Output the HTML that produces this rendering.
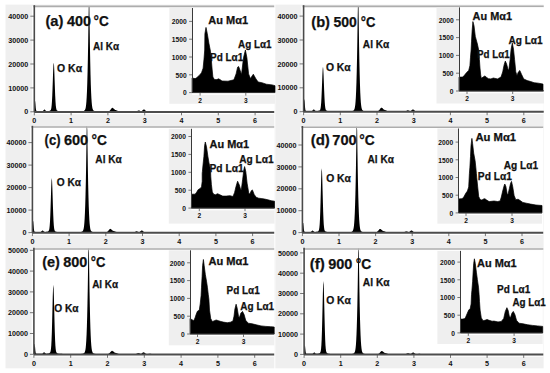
<!DOCTYPE html>
<html><head><meta charset="utf-8"><style>
html,body{margin:0;padding:0;background:#fff;width:550px;height:373px;overflow:hidden}
svg{display:block}
text{font-family:"Liberation Sans", sans-serif;font-weight:bold}
</style></head><body>
<svg width="550" height="373" viewBox="0 0 550 373" font-family='"Liberation Sans", sans-serif' font-weight="bold" fill="#111"><rect x="0" y="0" width="550" height="373" fill="#fff"/>
<rect x="5.5" y="4.6" width="268.8" height="363.7" fill="#efefef"/>
<rect x="275.3" y="4.6" width="268.3" height="363.7" fill="#efefef"/>
<rect x="32.1" y="6" width="242.1" height="108.2" fill="#fff"/>
<line x1="30.3" y1="111.8" x2="34.3" y2="111.8" stroke="#777" stroke-width="1"/>
<text x="28.3" y="114.4" font-size="7.2" text-anchor="end" textLength="4" lengthAdjust="spacingAndGlyphs">0</text>
<line x1="30.3" y1="87.9" x2="34.3" y2="87.9" stroke="#777" stroke-width="1"/>
<text x="28.3" y="90.5" font-size="7.2" text-anchor="end" textLength="20" lengthAdjust="spacingAndGlyphs">10000</text>
<line x1="30.3" y1="64" x2="34.3" y2="64" stroke="#777" stroke-width="1"/>
<text x="28.3" y="66.6" font-size="7.2" text-anchor="end" textLength="20" lengthAdjust="spacingAndGlyphs">20000</text>
<line x1="30.3" y1="40.1" x2="34.3" y2="40.1" stroke="#777" stroke-width="1"/>
<text x="28.3" y="42.7" font-size="7.2" text-anchor="end" textLength="20" lengthAdjust="spacingAndGlyphs">30000</text>
<line x1="30.3" y1="16.2" x2="34.3" y2="16.2" stroke="#777" stroke-width="1"/>
<text x="28.3" y="18.8" font-size="7.2" text-anchor="end" textLength="20" lengthAdjust="spacingAndGlyphs">40000</text>
<line x1="34.3" y1="111.8" x2="34.3" y2="115.3" stroke="#777" stroke-width="1"/>
<text x="34.3" y="123.1" font-size="7.2" text-anchor="middle">0</text>
<line x1="71.1" y1="111.8" x2="71.1" y2="115.3" stroke="#777" stroke-width="1"/>
<text x="71.1" y="123.1" font-size="7.2" text-anchor="middle">1</text>
<line x1="107.9" y1="111.8" x2="107.9" y2="115.3" stroke="#777" stroke-width="1"/>
<text x="107.9" y="123.1" font-size="7.2" text-anchor="middle">2</text>
<line x1="144.7" y1="111.8" x2="144.7" y2="115.3" stroke="#777" stroke-width="1"/>
<text x="144.7" y="123.1" font-size="7.2" text-anchor="middle">3</text>
<line x1="181.5" y1="111.8" x2="181.5" y2="115.3" stroke="#777" stroke-width="1"/>
<text x="181.5" y="123.1" font-size="7.2" text-anchor="middle">4</text>
<line x1="218.3" y1="111.8" x2="218.3" y2="115.3" stroke="#777" stroke-width="1"/>
<text x="218.3" y="123.1" font-size="7.2" text-anchor="middle">5</text>
<line x1="255.1" y1="111.8" x2="255.1" y2="115.3" stroke="#777" stroke-width="1"/>
<text x="255.1" y="123.1" font-size="7.2" text-anchor="middle">6</text>
<path d="M34.3 111.8 L34.3 108 34.59 104.4 34.89 101.22 35.18 101.22 35.48 104.42 35.77 108.02 36.07 110.1 36.36 110.83 36.66 111 36.95 111.03 37.24 111.03 37.54 111.04 37.83 111.04 38.13 111.05 38.42 111.05 38.72 111.06 39.01 111.06 39.3 111.06 39.6 111.07 39.89 111.07 40.19 111.08 40.48 111.08 40.78 111.09 41.07 111.09 41.37 111.09 41.66 111.09 41.95 111.09 42.25 111.08 42.54 111.03 42.84 110.94 43.13 110.75 43.43 110.46 43.72 110.1 44.02 109.74 44.31 109.5 44.6 109.47 44.9 109.67 45.19 110.01 45.49 110.39 45.78 110.7 46.08 110.91 46.37 111.03 46.66 111.09 46.96 111.1 47.25 111.1 47.55 111.09 47.84 111.07 48.14 111.05 48.43 111.02 48.73 110.98 49.02 110.94 49.31 110.88 49.61 110.8 49.9 110.7 50.2 110.55 50.49 110.31 50.79 109.89 51.08 109.13 51.38 107.74 51.67 105.33 51.96 101.45 52.26 95.77 52.55 88.31 52.85 79.7 53.14 71.26 53.44 64.89 53.73 62.49 54.02 64.9 54.32 71.27 54.61 79.71 54.91 88.33 55.2 95.8 55.5 101.49 55.79 105.38 56.09 107.79 56.38 109.19 56.67 109.95 56.97 110.38 57.26 110.62 57.56 110.78 57.85 110.89 58.15 110.97 58.44 111.04 58.74 111.09 59.03 111.13 59.32 111.17 59.62 111.2 59.91 111.22 60.21 111.24 60.5 111.26 60.8 111.27 61.09 111.28 61.38 111.29 61.68 111.3 61.97 111.31 62.27 111.31 62.56 111.32 62.86 111.32 63.15 111.33 63.45 111.33 63.74 111.33 64.03 111.34 64.33 111.34 64.62 111.34 64.92 111.34 65.21 111.35 65.51 111.35 65.8 111.35 66.1 111.36 66.39 111.36 66.68 111.36 66.98 111.36 67.27 111.36 67.57 111.37 67.86 111.37 68.16 111.37 68.45 111.37 68.74 111.38 69.04 111.38 69.33 111.38 69.63 111.38 69.92 111.38 70.22 111.39 70.51 111.39 70.81 111.39 71.1 111.39 71.39 111.39 71.69 111.4 71.98 111.4 72.28 111.4 72.57 111.4 72.87 111.41 73.16 111.41 73.46 111.41 73.75 111.41 74.04 111.41 74.34 111.41 74.63 111.42 74.93 111.42 75.22 111.42 75.52 111.42 75.81 111.42 76.1 111.43 76.4 111.43 76.69 111.43 76.99 111.43 77.28 111.43 77.58 111.43 77.87 111.43 78.17 111.43 78.46 111.43 78.75 111.43 79.05 111.43 79.34 111.43 79.64 111.43 79.93 111.42 80.23 111.42 80.52 111.41 80.82 111.4 81.11 111.39 81.4 111.37 81.7 111.35 81.99 111.32 82.29 111.29 82.58 111.24 82.88 111.19 83.17 111.12 83.46 111.03 83.76 110.92 84.05 110.77 84.35 110.58 84.64 110.3 84.94 109.91 85.23 109.31 85.53 108.39 85.82 106.97 86.11 104.8 86.41 101.6 86.7 97.02 87 90.73 87.29 82.42 87.59 71.8 87.88 58.45 88.18 41.72 88.47 21.18 88.76 6 89.06 6 89.35 6 89.65 26.62 89.94 46.27 90.24 62.09 90.53 74.7 90.82 84.72 91.12 92.5 91.41 98.33 91.71 102.54 92 105.46 92.3 107.41 92.59 108.69 92.89 109.52 93.18 110.06 93.47 110.42 93.77 110.68 94.06 110.86 94.36 111 94.65 111.11 94.95 111.19 95.24 111.26 95.54 111.32 95.83 111.36 96.12 111.4 96.42 111.43 96.71 111.45 97.01 111.47 97.3 111.48 97.6 111.5 97.89 111.5 98.18 111.51 98.48 111.52 98.77 111.52 99.07 111.53 99.36 111.53 99.66 111.54 99.95 111.54 100.25 111.54 100.54 111.54 100.83 111.54 101.13 111.55 101.42 111.55 101.72 111.55 102.01 111.55 102.31 111.55 102.6 111.55 102.9 111.55 103.19 111.55 103.48 111.55 103.78 111.56 104.07 111.56 104.37 111.56 104.66 111.56 104.96 111.56 105.25 111.56 105.54 111.56 105.84 111.56 106.13 111.56 106.43 111.56 106.72 111.56 107.02 111.55 107.31 111.55 107.61 111.53 107.9 111.5 108.19 111.46 108.49 111.39 108.78 111.29 109.08 111.15 109.37 110.97 109.67 110.72 109.96 110.42 110.26 110.07 110.55 109.67 110.84 109.26 111.14 108.85 111.43 108.47 111.73 108.16 112.02 107.95 112.32 107.84 112.61 107.85 112.9 107.96 113.2 108.16 113.49 108.42 113.79 108.71 114.08 109.01 114.38 109.28 114.67 109.52 114.97 109.72 115.26 109.88 115.55 110.01 115.85 110.12 116.14 110.22 116.44 110.32 116.73 110.43 117.03 110.54 117.32 110.66 117.62 110.78 117.91 110.9 118.2 111.02 118.5 111.13 118.79 111.23 119.09 111.32 119.38 111.39 119.68 111.45 119.97 111.49 120.26 111.53 120.56 111.55 120.85 111.57 121.15 111.58 121.44 111.59 121.74 111.6 122.03 111.6 122.33 111.6 122.62 111.61 122.91 111.61 123.21 111.61 123.5 111.61 123.8 111.61 124.09 111.61 124.39 111.61 124.68 111.61 124.98 111.61 125.27 111.61 125.56 111.61 125.86 111.61 126.15 111.61 126.45 111.62 126.74 111.62 127.04 111.62 127.33 111.62 127.62 111.62 127.92 111.62 128.21 111.62 128.51 111.62 128.8 111.62 129.1 111.62 129.39 111.62 129.69 111.62 129.98 111.62 130.27 111.62 130.57 111.62 130.86 111.62 131.16 111.62 131.45 111.62 131.75 111.63 132.04 111.63 132.34 111.63 132.63 111.63 132.92 111.63 133.22 111.63 133.51 111.63 133.81 111.63 134.1 111.63 134.4 111.63 134.69 111.62 134.98 111.62 135.28 111.6 135.57 111.58 135.87 111.54 136.16 111.48 136.46 111.4 136.75 111.29 137.05 111.16 137.34 111 137.63 110.84 137.93 110.69 138.22 110.56 138.52 110.47 138.81 110.44 139.11 110.47 139.4 110.55 139.7 110.68 139.99 110.83 140.28 110.97 140.58 111.09 140.87 111.17 141.17 111.2 141.46 111.15 141.76 111.04 142.05 110.86 142.34 110.62 142.64 110.35 142.93 110.06 143.23 109.81 143.52 109.61 143.82 109.51 144.11 109.51 144.41 109.61 144.7 109.81 144.99 110.07 145.29 110.37 145.58 110.65 145.88 110.92 146.17 111.13 146.47 111.3 146.76 111.42 147.06 111.49 147.35 111.52 147.64 111.53 147.94 111.5 148.23 111.45 148.53 111.39 148.82 111.31 149.12 111.23 149.41 111.16 149.7 111.1 150 111.06 150.29 111.06 150.59 111.08 150.88 111.13 151.18 111.2 151.47 111.28 151.77 111.36 152.06 111.43 152.35 111.5 152.65 111.55 152.94 111.59 153.24 111.62 153.53 111.63 153.83 111.64 154.12 111.65 154.42 111.65 154.71 111.66 155 111.66 155.3 111.66 155.59 111.66 155.89 111.66 156.18 111.66 156.48 111.66 156.77 111.66 157.06 111.66 157.36 111.66 157.65 111.66 157.95 111.66 158.24 111.66 158.54 111.66 158.83 111.66 159.13 111.66 159.42 111.66 159.71 111.66 160.01 111.66 160.3 111.66 160.6 111.66 160.89 111.66 161.19 111.66 161.48 111.66 161.78 111.66 162.07 111.66 162.36 111.66 162.66 111.67 162.95 111.67 163.25 111.67 163.54 111.67 163.84 111.67 164.13 111.67 164.42 111.67 164.72 111.67 165.01 111.67 165.31 111.67 165.6 111.67 165.9 111.67 166.19 111.67 166.49 111.67 166.78 111.67 167.07 111.67 167.37 111.67 167.66 111.67 167.96 111.67 168.25 111.67 168.55 111.67 168.84 111.67 169.14 111.67 169.43 111.67 169.72 111.67 170.02 111.67 170.31 111.67 170.61 111.67 170.9 111.67 171.2 111.67 171.49 111.67 171.78 111.67 172.08 111.67 172.37 111.67 172.67 111.67 172.96 111.67 173.26 111.67 173.55 111.67 173.85 111.67 174.14 111.67 174.43 111.67 174.73 111.67 175.02 111.67 175.32 111.67 175.61 111.68 175.91 111.68 176.2 111.68 176.5 111.68 176.79 111.68 177.08 111.68 177.38 111.68 177.67 111.68 177.97 111.68 178.26 111.68 178.56 111.68 178.85 111.68 179.14 111.68 179.44 111.68 179.73 111.68 180.03 111.68 180.32 111.68 180.62 111.68 180.91 111.68 181.21 111.68 181.5 111.68 181.79 111.68 182.09 111.68 182.38 111.68 182.68 111.68 182.97 111.68 183.27 111.68 183.56 111.68 183.86 111.68 184.15 111.68 184.44 111.68 184.74 111.68 185.03 111.68 185.33 111.68 185.62 111.68 185.92 111.68 186.21 111.68 186.5 111.68 186.8 111.68 187.09 111.68 187.39 111.68 187.68 111.68 187.98 111.68 188.27 111.68 188.57 111.68 188.86 111.68 189.15 111.68 189.45 111.68 189.74 111.68 190.04 111.68 190.33 111.68 190.63 111.68 190.92 111.68 191.22 111.68 191.51 111.68 191.8 111.68 192.1 111.68 192.39 111.68 192.69 111.68 192.98 111.68 193.28 111.68 193.57 111.68 193.86 111.69 194.16 111.69 194.45 111.69 194.75 111.69 195.04 111.69 195.34 111.69 195.63 111.69 195.93 111.69 196.22 111.69 196.51 111.69 196.81 111.69 197.1 111.69 197.4 111.69 197.69 111.69 197.99 111.69 198.28 111.69 198.58 111.69 198.87 111.69 199.16 111.69 199.46 111.69 199.75 111.69 200.05 111.69 200.34 111.69 200.64 111.69 200.93 111.69 201.22 111.69 201.52 111.69 201.81 111.69 202.11 111.69 202.4 111.69 202.7 111.69 202.99 111.69 203.29 111.69 203.58 111.69 203.87 111.69 204.17 111.69 204.46 111.69 204.76 111.69 205.05 111.69 205.35 111.69 205.64 111.69 205.94 111.69 206.23 111.69 206.52 111.69 206.82 111.69 207.11 111.69 207.41 111.69 207.7 111.69 208 111.69 208.29 111.69 208.58 111.69 208.88 111.69 209.17 111.69 209.47 111.69 209.76 111.69 210.06 111.69 210.35 111.69 210.65 111.69 210.94 111.69 211.23 111.69 211.53 111.69 211.82 111.69 212.12 111.69 212.41 111.69 212.71 111.69 213 111.69 213.3 111.69 213.59 111.69 213.88 111.69 214.18 111.69 214.47 111.69 214.77 111.69 215.06 111.69 215.36 111.69 215.65 111.69 215.94 111.69 216.24 111.69 216.53 111.69 216.83 111.69 217.12 111.69 217.42 111.69 217.71 111.69 218.01 111.69 218.3 111.69 218.59 111.69 218.89 111.69 219.18 111.69 219.48 111.69 219.77 111.69 220.07 111.69 220.36 111.69 220.66 111.69 220.95 111.69 221.24 111.69 221.54 111.69 221.83 111.69 222.13 111.69 222.42 111.69 222.72 111.69 223.01 111.69 223.3 111.69 223.6 111.69 223.89 111.69 224.19 111.69 224.48 111.69 224.78 111.69 225.07 111.69 225.37 111.69 225.66 111.69 225.95 111.7 226.25 111.7 226.54 111.7 226.84 111.7 227.13 111.7 227.43 111.7 227.72 111.7 228.02 111.7 228.31 111.7 228.6 111.7 228.9 111.7 229.19 111.7 229.49 111.7 229.78 111.7 230.08 111.7 230.37 111.7 230.66 111.7 230.96 111.7 231.25 111.7 231.55 111.7 231.84 111.7 232.14 111.7 232.43 111.7 232.73 111.7 233.02 111.7 233.31 111.7 233.61 111.7 233.9 111.7 234.2 111.7 234.49 111.7 234.79 111.7 235.08 111.7 235.38 111.7 235.67 111.7 235.96 111.7 236.26 111.7 236.55 111.7 236.85 111.7 237.14 111.7 237.44 111.7 237.73 111.7 238.02 111.7 238.32 111.7 238.61 111.7 238.91 111.7 239.2 111.7 239.5 111.7 239.79 111.7 240.09 111.7 240.38 111.7 240.67 111.7 240.97 111.7 241.26 111.7 241.56 111.7 241.85 111.7 242.15 111.7 242.44 111.7 242.74 111.7 243.03 111.7 243.32 111.7 243.62 111.7 243.91 111.7 244.21 111.7 244.5 111.7 244.8 111.7 245.09 111.7 245.38 111.7 245.68 111.7 245.97 111.7 246.27 111.7 246.56 111.7 246.86 111.7 247.15 111.7 247.45 111.7 247.74 111.7 248.03 111.7 248.33 111.7 248.62 111.7 248.92 111.7 249.21 111.7 249.51 111.7 249.8 111.7 250.1 111.7 250.39 111.7 250.68 111.7 250.98 111.7 251.27 111.7 251.57 111.7 251.86 111.7 252.16 111.7 252.45 111.7 252.74 111.7 253.04 111.7 253.33 111.7 253.63 111.7 253.92 111.7 254.22 111.7 254.51 111.7 254.81 111.7 255.1 111.7 255.39 111.7 255.69 111.7 255.98 111.7 256.28 111.7 256.57 111.7 256.87 111.7 257.16 111.7 257.46 111.7 257.75 111.7 258.04 111.7 258.34 111.7 258.63 111.7 258.93 111.7 259.22 111.7 259.52 111.7 259.81 111.7 260.1 111.7 260.4 111.7 260.69 111.7 260.99 111.7 261.28 111.7 261.58 111.7 261.87 111.7 262.17 111.7 262.46 111.7 262.75 111.7 263.05 111.7 263.34 111.7 263.64 111.7 263.93 111.7 264.23 111.7 264.52 111.7 264.82 111.7 265.11 111.7 265.4 111.7 265.7 111.7 265.99 111.7 266.29 111.7 266.58 111.7 266.88 111.7 267.17 111.7 267.46 111.7 267.76 111.7 268.05 111.7 268.35 111.7 268.64 111.7 268.94 111.7 269.23 111.7 269.53 111.7 269.82 111.7 270.11 111.7 270.41 111.7 270.7 111.7 271 111.7 271.29 111.7 271.59 111.7 271.88 111.7 272.18 111.7 272.47 111.7 272.76 111.7 273.06 111.7 273.35 111.7 273.65 111.7 273.94 111.7 L273.94 111.8 Z" fill="#000"/>
<line x1="33.3" y1="6.4" x2="274.2" y2="6.4" stroke="#adadad" stroke-width="1.6"/>
<line x1="34.3" y1="5.2" x2="34.3" y2="111.8" stroke="#4a4a4a" stroke-width="1.6"/>
<line x1="34.3" y1="111.9" x2="274.2" y2="111.9" stroke="#4d4d4d" stroke-width="2"/>
<rect x="169.3" y="8" width="105.7" height="95.8" fill="#efefef"/>
<rect x="192.1" y="8" width="82.9" height="86.8" fill="#fff"/>
<path d="M192.1 92.6 L192.1 78 195 78.6 196 78.3 199.2 75.5 201.5 72.8 203.1 68.2 204 59.1 204.7 50 204.9 33.7 206 27.4 207.3 33.7 208.9 43.3 210.5 51.4 211.3 59.4 212.1 69.1 212.9 77.1 214.5 79.6 216.9 79.6 218.5 78.8 220 79.6 222 81 228 81.2 233.9 79.8 236.1 73.9 237.6 67.2 238.6 66.5 239.8 69.5 241.5 74.6 243.5 57.7 245.4 50 246.9 57.7 248.6 73.9 250.4 78.6 253.3 74.2 256 79 258.2 82 261.9 82.7 266.3 84.2 272.2 84.9 275 85.7 L275 92.6 Z" fill="#000" stroke="#000" stroke-width="0.7" stroke-linejoin="round"/>
<line x1="189.1" y1="92.6" x2="192.1" y2="92.6" stroke="#777" stroke-width="1"/>
<text x="186.7" y="95.3" font-size="6.6" text-anchor="end" textLength="3.72" lengthAdjust="spacingAndGlyphs">0</text>
<line x1="189.1" y1="74.8" x2="192.1" y2="74.8" stroke="#777" stroke-width="1"/>
<text x="186.7" y="77.5" font-size="6.6" text-anchor="end" textLength="11.16" lengthAdjust="spacingAndGlyphs">500</text>
<line x1="189.1" y1="57" x2="192.1" y2="57" stroke="#777" stroke-width="1"/>
<text x="186.7" y="59.7" font-size="6.6" text-anchor="end" textLength="14.88" lengthAdjust="spacingAndGlyphs">1000</text>
<line x1="189.1" y1="39.2" x2="192.1" y2="39.2" stroke="#777" stroke-width="1"/>
<text x="186.7" y="41.9" font-size="6.6" text-anchor="end" textLength="14.88" lengthAdjust="spacingAndGlyphs">1500</text>
<line x1="189.1" y1="21.4" x2="192.1" y2="21.4" stroke="#777" stroke-width="1"/>
<text x="186.7" y="24.1" font-size="6.6" text-anchor="end" textLength="14.88" lengthAdjust="spacingAndGlyphs">2000</text>
<line x1="200.1" y1="92.6" x2="200.1" y2="95.6" stroke="#777" stroke-width="1"/>
<text x="200.1" y="102.8" font-size="6.6" text-anchor="middle">2</text>
<line x1="245.8" y1="92.6" x2="245.8" y2="95.6" stroke="#777" stroke-width="1"/>
<text x="245.8" y="102.8" font-size="6.6" text-anchor="middle">3</text>
<line x1="192.5" y1="8" x2="192.5" y2="92.6" stroke="#3a3a3a" stroke-width="1"/>
<line x1="192.1" y1="92.5" x2="275" y2="92.5" stroke="#333" stroke-width="1"/>
<text x="45.46" y="25.5" font-size="14.8" textLength="18.04" lengthAdjust="spacingAndGlyphs" stroke="#111" stroke-width="0.25">(a)</text>
<text x="67.08" y="25.5" font-size="14.8" textLength="24.04" lengthAdjust="spacingAndGlyphs" stroke="#111" stroke-width="0.25">400</text>
<text x="93.59" y="25.5" font-size="14.8" textLength="15.18" lengthAdjust="spacingAndGlyphs" stroke="#111" stroke-width="0.25">°C</text>
<text x="57.08" y="72.1" font-size="10.6" textLength="25" lengthAdjust="spacingAndGlyphs" stroke="#111" stroke-width="0.25">O Kα</text>
<text x="93.05" y="50.1" font-size="10.6" textLength="25.94" lengthAdjust="spacingAndGlyphs" stroke="#111" stroke-width="0.25">Al Kα</text>
<text x="208.33" y="24.1" font-size="10.5" textLength="39.75" lengthAdjust="spacingAndGlyphs" stroke="#111" stroke-width="0.25">Au Mα1</text>
<text x="238.05" y="47.5" font-size="10.5" textLength="33.42" lengthAdjust="spacingAndGlyphs" stroke="#111" stroke-width="0.25">Ag Lα1</text>
<text x="210.05" y="61.1" font-size="10.5" textLength="33.22" lengthAdjust="spacingAndGlyphs" stroke="#111" stroke-width="0.25">Pd Lα1</text>
<rect x="301.4" y="6" width="242.3" height="108.1" fill="#fff"/>
<line x1="299.6" y1="111.7" x2="303.6" y2="111.7" stroke="#777" stroke-width="1"/>
<text x="297.6" y="114.3" font-size="7.2" text-anchor="end" textLength="4" lengthAdjust="spacingAndGlyphs">0</text>
<line x1="299.6" y1="87.8" x2="303.6" y2="87.8" stroke="#777" stroke-width="1"/>
<text x="297.6" y="90.4" font-size="7.2" text-anchor="end" textLength="20" lengthAdjust="spacingAndGlyphs">10000</text>
<line x1="299.6" y1="63.9" x2="303.6" y2="63.9" stroke="#777" stroke-width="1"/>
<text x="297.6" y="66.5" font-size="7.2" text-anchor="end" textLength="20" lengthAdjust="spacingAndGlyphs">20000</text>
<line x1="299.6" y1="40" x2="303.6" y2="40" stroke="#777" stroke-width="1"/>
<text x="297.6" y="42.6" font-size="7.2" text-anchor="end" textLength="20" lengthAdjust="spacingAndGlyphs">30000</text>
<line x1="299.6" y1="16.1" x2="303.6" y2="16.1" stroke="#777" stroke-width="1"/>
<text x="297.6" y="18.7" font-size="7.2" text-anchor="end" textLength="20" lengthAdjust="spacingAndGlyphs">40000</text>
<line x1="303.6" y1="111.7" x2="303.6" y2="115.2" stroke="#777" stroke-width="1"/>
<text x="303.6" y="123" font-size="7.2" text-anchor="middle">0</text>
<line x1="340.3" y1="111.7" x2="340.3" y2="115.2" stroke="#777" stroke-width="1"/>
<text x="340.3" y="123" font-size="7.2" text-anchor="middle">1</text>
<line x1="377" y1="111.7" x2="377" y2="115.2" stroke="#777" stroke-width="1"/>
<text x="377" y="123" font-size="7.2" text-anchor="middle">2</text>
<line x1="413.7" y1="111.7" x2="413.7" y2="115.2" stroke="#777" stroke-width="1"/>
<text x="413.7" y="123" font-size="7.2" text-anchor="middle">3</text>
<line x1="450.4" y1="111.7" x2="450.4" y2="115.2" stroke="#777" stroke-width="1"/>
<text x="450.4" y="123" font-size="7.2" text-anchor="middle">4</text>
<line x1="487.1" y1="111.7" x2="487.1" y2="115.2" stroke="#777" stroke-width="1"/>
<text x="487.1" y="123" font-size="7.2" text-anchor="middle">5</text>
<line x1="523.8" y1="111.7" x2="523.8" y2="115.2" stroke="#777" stroke-width="1"/>
<text x="523.8" y="123" font-size="7.2" text-anchor="middle">6</text>
<path d="M303.6 111.7 L303.6 107.41 303.89 103.23 304.19 99.52 304.48 99.53 304.77 103.24 305.07 107.43 305.36 109.85 305.66 110.7 305.95 110.89 306.24 110.93 306.54 110.93 306.83 110.94 307.12 110.94 307.42 110.95 307.71 110.95 308 110.96 308.3 110.96 308.59 110.96 308.88 110.97 309.18 110.97 309.47 110.98 309.77 110.98 310.06 110.99 310.35 110.99 310.65 110.99 310.94 110.99 311.23 110.99 311.53 110.98 311.82 110.93 312.11 110.84 312.41 110.65 312.7 110.36 313 110 313.29 109.64 313.58 109.4 313.88 109.37 314.17 109.57 314.46 109.91 314.76 110.29 315.05 110.6 315.34 110.82 315.64 110.94 315.93 110.99 316.22 111.01 316.52 111.01 316.81 111 317.11 110.98 317.4 110.96 317.69 110.94 317.99 110.9 318.28 110.86 318.57 110.81 318.87 110.74 319.16 110.64 319.45 110.5 319.75 110.29 320.04 109.91 320.34 109.21 320.63 107.95 320.92 105.75 321.22 102.22 321.51 97.03 321.8 90.23 322.1 82.38 322.39 74.69 322.68 68.88 322.98 66.69 323.27 68.89 323.56 74.7 323.86 82.4 324.15 90.26 324.45 97.06 324.74 102.25 325.03 105.8 325.33 108 325.62 109.27 325.91 109.97 326.21 110.35 326.5 110.58 326.79 110.72 327.09 110.82 327.38 110.9 327.68 110.96 327.97 111.01 328.26 111.05 328.56 111.08 328.85 111.11 329.14 111.13 329.44 111.15 329.73 111.16 330.02 111.17 330.32 111.18 330.61 111.19 330.9 111.2 331.2 111.21 331.49 111.21 331.79 111.22 332.08 111.22 332.37 111.23 332.67 111.23 332.96 111.23 333.25 111.24 333.55 111.24 333.84 111.24 334.13 111.25 334.43 111.25 334.72 111.25 335.02 111.25 335.31 111.26 335.6 111.26 335.9 111.26 336.19 111.26 336.48 111.26 336.78 111.27 337.07 111.27 337.36 111.27 337.66 111.27 337.95 111.28 338.24 111.28 338.54 111.28 338.83 111.28 339.13 111.28 339.42 111.29 339.71 111.29 340.01 111.29 340.3 111.29 340.59 111.29 340.89 111.3 341.18 111.3 341.47 111.3 341.77 111.3 342.06 111.31 342.36 111.31 342.65 111.31 342.94 111.31 343.24 111.31 343.53 111.31 343.82 111.32 344.12 111.32 344.41 111.32 344.7 111.32 345 111.32 345.29 111.33 345.58 111.33 345.88 111.33 346.17 111.33 346.47 111.33 346.76 111.33 347.05 111.33 347.35 111.33 347.64 111.33 347.93 111.33 348.23 111.33 348.52 111.33 348.81 111.33 349.11 111.32 349.4 111.32 349.7 111.31 349.99 111.3 350.28 111.29 350.58 111.27 350.87 111.25 351.16 111.22 351.46 111.19 351.75 111.14 352.04 111.09 352.34 111.02 352.63 110.93 352.92 110.82 353.22 110.67 353.51 110.48 353.81 110.2 354.1 109.81 354.39 109.21 354.69 108.29 354.98 106.87 355.27 104.7 355.57 101.5 355.86 96.92 356.15 90.63 356.45 82.32 356.74 71.7 357.04 58.35 357.33 41.62 357.62 21.08 357.92 6 358.21 6 358.5 6 358.8 26.52 359.09 46.17 359.38 61.99 359.68 74.6 359.97 84.62 360.26 92.4 360.56 98.23 360.85 102.44 361.15 105.36 361.44 107.31 361.73 108.59 362.03 109.42 362.32 109.96 362.61 110.32 362.91 110.58 363.2 110.76 363.49 110.9 363.79 111.01 364.08 111.09 364.38 111.16 364.67 111.22 364.96 111.26 365.26 111.3 365.55 111.33 365.84 111.35 366.14 111.37 366.43 111.38 366.72 111.4 367.02 111.4 367.31 111.41 367.6 111.42 367.9 111.42 368.19 111.43 368.49 111.43 368.78 111.44 369.07 111.44 369.37 111.44 369.66 111.44 369.95 111.44 370.25 111.45 370.54 111.45 370.83 111.45 371.13 111.45 371.42 111.45 371.72 111.45 372.01 111.45 372.3 111.45 372.6 111.45 372.89 111.46 373.18 111.46 373.48 111.46 373.77 111.46 374.06 111.46 374.36 111.46 374.65 111.46 374.94 111.46 375.24 111.46 375.53 111.46 375.83 111.46 376.12 111.45 376.41 111.45 376.71 111.43 377 111.4 377.29 111.36 377.59 111.29 377.88 111.19 378.17 111.05 378.47 110.87 378.76 110.62 379.06 110.32 379.35 109.97 379.64 109.57 379.94 109.16 380.23 108.75 380.52 108.37 380.82 108.06 381.11 107.85 381.4 107.74 381.7 107.75 381.99 107.86 382.28 108.06 382.58 108.32 382.87 108.61 383.17 108.91 383.46 109.18 383.75 109.42 384.05 109.62 384.34 109.78 384.63 109.91 384.93 110.02 385.22 110.12 385.51 110.22 385.81 110.33 386.1 110.44 386.4 110.56 386.69 110.68 386.98 110.8 387.28 110.92 387.57 111.03 387.86 111.13 388.16 111.22 388.45 111.29 388.74 111.35 389.04 111.39 389.33 111.43 389.62 111.45 389.92 111.47 390.21 111.48 390.51 111.49 390.8 111.5 391.09 111.5 391.39 111.5 391.68 111.51 391.97 111.51 392.27 111.51 392.56 111.51 392.85 111.51 393.15 111.51 393.44 111.51 393.74 111.51 394.03 111.51 394.32 111.51 394.62 111.51 394.91 111.51 395.2 111.51 395.5 111.52 395.79 111.52 396.08 111.52 396.38 111.52 396.67 111.52 396.96 111.52 397.26 111.52 397.55 111.52 397.85 111.52 398.14 111.52 398.43 111.52 398.73 111.52 399.02 111.52 399.31 111.52 399.61 111.52 399.9 111.52 400.19 111.52 400.49 111.52 400.78 111.53 401.08 111.53 401.37 111.53 401.66 111.53 401.96 111.53 402.25 111.53 402.54 111.53 402.84 111.53 403.13 111.53 403.42 111.53 403.72 111.52 404.01 111.52 404.3 111.5 404.6 111.48 404.89 111.44 405.19 111.38 405.48 111.3 405.77 111.19 406.07 111.06 406.36 110.9 406.65 110.74 406.95 110.59 407.24 110.46 407.53 110.37 407.83 110.34 408.12 110.37 408.42 110.45 408.71 110.58 409 110.73 409.3 110.87 409.59 110.99 409.88 111.07 410.18 111.1 410.47 111.05 410.76 110.94 411.06 110.76 411.35 110.52 411.64 110.25 411.94 109.96 412.23 109.71 412.53 109.51 412.82 109.41 413.11 109.41 413.41 109.51 413.7 109.71 413.99 109.97 414.29 110.27 414.58 110.55 414.87 110.82 415.17 111.03 415.46 111.2 415.76 111.32 416.05 111.39 416.34 111.42 416.64 111.43 416.93 111.4 417.22 111.35 417.52 111.29 417.81 111.21 418.1 111.13 418.4 111.06 418.69 111 418.98 110.96 419.28 110.96 419.57 110.98 419.87 111.03 420.16 111.1 420.45 111.18 420.75 111.26 421.04 111.33 421.33 111.4 421.63 111.45 421.92 111.49 422.21 111.52 422.51 111.53 422.8 111.54 423.1 111.55 423.39 111.55 423.68 111.56 423.98 111.56 424.27 111.56 424.56 111.56 424.86 111.56 425.15 111.56 425.44 111.56 425.74 111.56 426.03 111.56 426.32 111.56 426.62 111.56 426.91 111.56 427.21 111.56 427.5 111.56 427.79 111.56 428.09 111.56 428.38 111.56 428.67 111.56 428.97 111.56 429.26 111.56 429.55 111.56 429.85 111.56 430.14 111.56 430.44 111.56 430.73 111.56 431.02 111.56 431.32 111.56 431.61 111.57 431.9 111.57 432.2 111.57 432.49 111.57 432.78 111.57 433.08 111.57 433.37 111.57 433.66 111.57 433.96 111.57 434.25 111.57 434.55 111.57 434.84 111.57 435.13 111.57 435.43 111.57 435.72 111.57 436.01 111.57 436.31 111.57 436.6 111.57 436.89 111.57 437.19 111.57 437.48 111.57 437.78 111.57 438.07 111.57 438.36 111.57 438.66 111.57 438.95 111.57 439.24 111.57 439.54 111.57 439.83 111.57 440.12 111.57 440.42 111.57 440.71 111.57 441 111.57 441.3 111.57 441.59 111.57 441.89 111.57 442.18 111.57 442.47 111.57 442.77 111.57 443.06 111.57 443.35 111.57 443.65 111.57 443.94 111.57 444.23 111.57 444.53 111.58 444.82 111.58 445.12 111.58 445.41 111.58 445.7 111.58 446 111.58 446.29 111.58 446.58 111.58 446.88 111.58 447.17 111.58 447.46 111.58 447.76 111.58 448.05 111.58 448.34 111.58 448.64 111.58 448.93 111.58 449.23 111.58 449.52 111.58 449.81 111.58 450.11 111.58 450.4 111.58 450.69 111.58 450.99 111.58 451.28 111.58 451.57 111.58 451.87 111.58 452.16 111.58 452.46 111.58 452.75 111.58 453.04 111.58 453.34 111.58 453.63 111.58 453.92 111.58 454.22 111.58 454.51 111.58 454.8 111.58 455.1 111.58 455.39 111.58 455.68 111.58 455.98 111.58 456.27 111.58 456.57 111.58 456.86 111.58 457.15 111.58 457.45 111.58 457.74 111.58 458.03 111.58 458.33 111.58 458.62 111.58 458.91 111.58 459.21 111.58 459.5 111.58 459.8 111.58 460.09 111.58 460.38 111.58 460.68 111.58 460.97 111.58 461.26 111.58 461.56 111.58 461.85 111.58 462.14 111.58 462.44 111.58 462.73 111.59 463.02 111.59 463.32 111.59 463.61 111.59 463.91 111.59 464.2 111.59 464.49 111.59 464.79 111.59 465.08 111.59 465.37 111.59 465.67 111.59 465.96 111.59 466.25 111.59 466.55 111.59 466.84 111.59 467.14 111.59 467.43 111.59 467.72 111.59 468.02 111.59 468.31 111.59 468.6 111.59 468.9 111.59 469.19 111.59 469.48 111.59 469.78 111.59 470.07 111.59 470.36 111.59 470.66 111.59 470.95 111.59 471.25 111.59 471.54 111.59 471.83 111.59 472.13 111.59 472.42 111.59 472.71 111.59 473.01 111.59 473.3 111.59 473.59 111.59 473.89 111.59 474.18 111.59 474.48 111.59 474.77 111.59 475.06 111.59 475.36 111.59 475.65 111.59 475.94 111.59 476.24 111.59 476.53 111.59 476.82 111.59 477.12 111.59 477.41 111.59 477.7 111.59 478 111.59 478.29 111.59 478.59 111.59 478.88 111.59 479.17 111.59 479.47 111.59 479.76 111.59 480.05 111.59 480.35 111.59 480.64 111.59 480.93 111.59 481.23 111.59 481.52 111.59 481.82 111.59 482.11 111.59 482.4 111.59 482.7 111.59 482.99 111.59 483.28 111.59 483.58 111.59 483.87 111.59 484.16 111.59 484.46 111.59 484.75 111.59 485.04 111.59 485.34 111.59 485.63 111.59 485.93 111.59 486.22 111.59 486.51 111.59 486.81 111.59 487.1 111.59 487.39 111.59 487.69 111.59 487.98 111.59 488.27 111.59 488.57 111.59 488.86 111.59 489.16 111.59 489.45 111.59 489.74 111.59 490.04 111.59 490.33 111.59 490.62 111.59 490.92 111.59 491.21 111.59 491.5 111.59 491.8 111.59 492.09 111.59 492.38 111.59 492.68 111.59 492.97 111.59 493.27 111.59 493.56 111.59 493.85 111.59 494.15 111.59 494.44 111.59 494.73 111.6 495.03 111.6 495.32 111.6 495.61 111.6 495.91 111.6 496.2 111.6 496.5 111.6 496.79 111.6 497.08 111.6 497.38 111.6 497.67 111.6 497.96 111.6 498.26 111.6 498.55 111.6 498.84 111.6 499.14 111.6 499.43 111.6 499.72 111.6 500.02 111.6 500.31 111.6 500.61 111.6 500.9 111.6 501.19 111.6 501.49 111.6 501.78 111.6 502.07 111.6 502.37 111.6 502.66 111.6 502.95 111.6 503.25 111.6 503.54 111.6 503.84 111.6 504.13 111.6 504.42 111.6 504.72 111.6 505.01 111.6 505.3 111.6 505.6 111.6 505.89 111.6 506.18 111.6 506.48 111.6 506.77 111.6 507.06 111.6 507.36 111.6 507.65 111.6 507.95 111.6 508.24 111.6 508.53 111.6 508.83 111.6 509.12 111.6 509.41 111.6 509.71 111.6 510 111.6 510.29 111.6 510.59 111.6 510.88 111.6 511.18 111.6 511.47 111.6 511.76 111.6 512.06 111.6 512.35 111.6 512.64 111.6 512.94 111.6 513.23 111.6 513.52 111.6 513.82 111.6 514.11 111.6 514.4 111.6 514.7 111.6 514.99 111.6 515.29 111.6 515.58 111.6 515.87 111.6 516.17 111.6 516.46 111.6 516.75 111.6 517.05 111.6 517.34 111.6 517.63 111.6 517.93 111.6 518.22 111.6 518.52 111.6 518.81 111.6 519.1 111.6 519.4 111.6 519.69 111.6 519.98 111.6 520.28 111.6 520.57 111.6 520.86 111.6 521.16 111.6 521.45 111.6 521.74 111.6 522.04 111.6 522.33 111.6 522.63 111.6 522.92 111.6 523.21 111.6 523.51 111.6 523.8 111.6 524.09 111.6 524.39 111.6 524.68 111.6 524.97 111.6 525.27 111.6 525.56 111.6 525.86 111.6 526.15 111.6 526.44 111.6 526.74 111.6 527.03 111.6 527.32 111.6 527.62 111.6 527.91 111.6 528.2 111.6 528.5 111.6 528.79 111.6 529.08 111.6 529.38 111.6 529.67 111.6 529.97 111.6 530.26 111.6 530.55 111.6 530.85 111.6 531.14 111.6 531.43 111.6 531.73 111.6 532.02 111.6 532.31 111.6 532.61 111.6 532.9 111.6 533.2 111.6 533.49 111.6 533.78 111.6 534.08 111.6 534.37 111.6 534.66 111.6 534.96 111.6 535.25 111.6 535.54 111.6 535.84 111.6 536.13 111.6 536.42 111.6 536.72 111.6 537.01 111.6 537.31 111.6 537.6 111.6 537.89 111.6 538.19 111.6 538.48 111.6 538.77 111.6 539.07 111.6 539.36 111.6 539.65 111.6 539.95 111.6 540.24 111.6 540.54 111.6 540.83 111.6 541.12 111.6 541.42 111.6 541.71 111.6 542 111.6 542.3 111.6 542.59 111.6 542.88 111.6 543.18 111.6 543.47 111.6 L543.47 111.7 Z" fill="#000"/>
<line x1="302.6" y1="6.4" x2="543.7" y2="6.4" stroke="#adadad" stroke-width="1.6"/>
<line x1="303.6" y1="5.2" x2="303.6" y2="111.7" stroke="#4a4a4a" stroke-width="1.6"/>
<line x1="303.6" y1="111.8" x2="543.7" y2="111.8" stroke="#4d4d4d" stroke-width="2"/>
<rect x="436.5" y="7.4" width="107.5" height="96.1" fill="#efefef"/>
<rect x="459" y="7.4" width="85" height="85.8" fill="#fff"/>
<path d="M459 91 L459 77.1 462.6 77.1 464.4 75.3 466.8 72.3 468.7 70.5 469.9 65.7 470.5 57.2 471.1 50 471.5 41.8 472.1 31.1 472.9 21.6 474 25.7 475.3 36.4 477.4 44 478.9 51 479.4 59.6 480 68.1 480.7 75 481.3 78.3 483.1 77.1 484.9 75.9 486.7 77.5 488.5 78.7 490.9 78.9 493.3 78 497.5 78.9 501 77.1 502.7 71.9 504.1 64.9 505.3 61.1 506.6 64 508 69.3 508.8 70.1 510.1 59.7 511.1 49.2 512.3 43.1 513.5 49.2 514.6 59.7 515.8 71.9 517 75.4 518.4 71.9 519.8 70.5 521.6 74.5 523.7 78.9 527.2 80.6 530.6 81.5 534.1 82.7 538.5 83.2 543 84.1 L543 91 Z" fill="#000" stroke="#000" stroke-width="0.7" stroke-linejoin="round"/>
<line x1="456" y1="91" x2="459" y2="91" stroke="#777" stroke-width="1"/>
<text x="453.6" y="93.7" font-size="6.6" text-anchor="end" textLength="3.72" lengthAdjust="spacingAndGlyphs">0</text>
<line x1="456" y1="73.2" x2="459" y2="73.2" stroke="#777" stroke-width="1"/>
<text x="453.6" y="75.9" font-size="6.6" text-anchor="end" textLength="11.16" lengthAdjust="spacingAndGlyphs">500</text>
<line x1="456" y1="55.4" x2="459" y2="55.4" stroke="#777" stroke-width="1"/>
<text x="453.6" y="58.1" font-size="6.6" text-anchor="end" textLength="14.88" lengthAdjust="spacingAndGlyphs">1000</text>
<line x1="456" y1="37.6" x2="459" y2="37.6" stroke="#777" stroke-width="1"/>
<text x="453.6" y="40.3" font-size="6.6" text-anchor="end" textLength="14.88" lengthAdjust="spacingAndGlyphs">1500</text>
<line x1="456" y1="19.8" x2="459" y2="19.8" stroke="#777" stroke-width="1"/>
<text x="453.6" y="22.5" font-size="6.6" text-anchor="end" textLength="14.88" lengthAdjust="spacingAndGlyphs">2000</text>
<line x1="467" y1="91" x2="467" y2="94" stroke="#777" stroke-width="1"/>
<text x="467" y="101.2" font-size="6.6" text-anchor="middle">2</text>
<line x1="512.7" y1="91" x2="512.7" y2="94" stroke="#777" stroke-width="1"/>
<text x="512.7" y="101.2" font-size="6.6" text-anchor="middle">3</text>
<line x1="459.5" y1="7.4" x2="459.5" y2="91" stroke="#3a3a3a" stroke-width="1"/>
<line x1="459" y1="90.9" x2="544" y2="90.9" stroke="#333" stroke-width="1"/>
<text x="311.27" y="26.9" font-size="14.8" textLength="18.72" lengthAdjust="spacingAndGlyphs" stroke="#111" stroke-width="0.25">(b)</text>
<text x="333.38" y="26.9" font-size="14.8" textLength="23.43" lengthAdjust="spacingAndGlyphs" stroke="#111" stroke-width="0.25">500</text>
<text x="360.81" y="26.9" font-size="14.8" textLength="14.64" lengthAdjust="spacingAndGlyphs" stroke="#111" stroke-width="0.25">°C</text>
<text x="325.89" y="70.6" font-size="10.6" textLength="24.79" lengthAdjust="spacingAndGlyphs" stroke="#111" stroke-width="0.25">O Kα</text>
<text x="362.85" y="47.8" font-size="10.6" textLength="26.45" lengthAdjust="spacingAndGlyphs" stroke="#111" stroke-width="0.25">Al Kα</text>
<text x="472.63" y="19.8" font-size="10.5" textLength="39.34" lengthAdjust="spacingAndGlyphs" stroke="#111" stroke-width="0.25">Au Mα1</text>
<text x="508.45" y="44.4" font-size="10.5" textLength="34.13" lengthAdjust="spacingAndGlyphs" stroke="#111" stroke-width="0.25">Ag Lα1</text>
<text x="477.07" y="57.7" font-size="10.5" textLength="32.5" lengthAdjust="spacingAndGlyphs" stroke="#111" stroke-width="0.25">Pd Lα1</text>
<rect x="30.2" y="126.6" width="244" height="108.4" fill="#fff"/>
<line x1="28.4" y1="232.6" x2="32.4" y2="232.6" stroke="#777" stroke-width="1"/>
<text x="26.4" y="235.2" font-size="7.2" text-anchor="end" textLength="4" lengthAdjust="spacingAndGlyphs">0</text>
<line x1="28.4" y1="210.1" x2="32.4" y2="210.1" stroke="#777" stroke-width="1"/>
<text x="26.4" y="212.7" font-size="7.2" text-anchor="end" textLength="20" lengthAdjust="spacingAndGlyphs">10000</text>
<line x1="28.4" y1="187.6" x2="32.4" y2="187.6" stroke="#777" stroke-width="1"/>
<text x="26.4" y="190.2" font-size="7.2" text-anchor="end" textLength="20" lengthAdjust="spacingAndGlyphs">20000</text>
<line x1="28.4" y1="165.1" x2="32.4" y2="165.1" stroke="#777" stroke-width="1"/>
<text x="26.4" y="167.7" font-size="7.2" text-anchor="end" textLength="20" lengthAdjust="spacingAndGlyphs">30000</text>
<line x1="28.4" y1="142.6" x2="32.4" y2="142.6" stroke="#777" stroke-width="1"/>
<text x="26.4" y="145.2" font-size="7.2" text-anchor="end" textLength="20" lengthAdjust="spacingAndGlyphs">40000</text>
<line x1="32.4" y1="232.6" x2="32.4" y2="236.1" stroke="#777" stroke-width="1"/>
<text x="32.4" y="243.9" font-size="7.2" text-anchor="middle">0</text>
<line x1="69.1" y1="232.6" x2="69.1" y2="236.1" stroke="#777" stroke-width="1"/>
<text x="69.1" y="243.9" font-size="7.2" text-anchor="middle">1</text>
<line x1="105.8" y1="232.6" x2="105.8" y2="236.1" stroke="#777" stroke-width="1"/>
<text x="105.8" y="243.9" font-size="7.2" text-anchor="middle">2</text>
<line x1="142.5" y1="232.6" x2="142.5" y2="236.1" stroke="#777" stroke-width="1"/>
<text x="142.5" y="243.9" font-size="7.2" text-anchor="middle">3</text>
<line x1="179.2" y1="232.6" x2="179.2" y2="236.1" stroke="#777" stroke-width="1"/>
<text x="179.2" y="243.9" font-size="7.2" text-anchor="middle">4</text>
<line x1="215.9" y1="232.6" x2="215.9" y2="236.1" stroke="#777" stroke-width="1"/>
<text x="215.9" y="243.9" font-size="7.2" text-anchor="middle">5</text>
<line x1="252.6" y1="232.6" x2="252.6" y2="236.1" stroke="#777" stroke-width="1"/>
<text x="252.6" y="243.9" font-size="7.2" text-anchor="middle">6</text>
<path d="M32.4 232.6 L32.4 228.56 32.69 224.63 32.99 221.14 33.28 221.14 33.57 224.64 33.87 228.58 34.16 230.86 34.46 231.66 34.75 231.84 35.04 231.87 35.34 231.88 35.63 231.88 35.92 231.89 36.22 231.89 36.51 231.9 36.8 231.9 37.1 231.9 37.39 231.91 37.68 231.91 37.98 231.92 38.27 231.92 38.57 231.92 38.86 231.93 39.15 231.93 39.45 231.93 39.74 231.94 40.03 231.93 40.33 231.92 40.62 231.88 40.91 231.79 41.21 231.61 41.5 231.34 41.8 231 42.09 230.66 42.38 230.43 42.68 230.41 42.97 230.59 43.26 230.91 43.56 231.27 43.85 231.56 44.14 231.76 44.44 231.87 44.73 231.92 45.02 231.93 45.32 231.93 45.61 231.92 45.91 231.9 46.2 231.87 46.49 231.84 46.79 231.8 47.08 231.75 47.37 231.68 47.67 231.59 47.96 231.48 48.25 231.31 48.55 231.05 48.84 230.58 49.14 229.74 49.43 228.2 49.72 225.53 50.02 221.24 50.31 214.94 50.6 206.68 50.9 197.14 51.19 187.79 51.48 180.74 51.78 178.08 52.07 180.74 52.36 187.8 52.66 197.15 52.95 206.7 53.25 214.97 53.54 221.27 53.83 225.58 54.13 228.25 54.42 229.79 54.71 230.64 55.01 231.11 55.3 231.38 55.59 231.55 55.89 231.67 56.18 231.77 56.48 231.84 56.77 231.9 57.06 231.94 57.36 231.98 57.65 232.01 57.94 232.04 58.24 232.06 58.53 232.08 58.82 232.09 59.12 232.11 59.41 232.12 59.7 232.12 60 232.13 60.29 232.14 60.59 232.14 60.88 232.15 61.17 232.15 61.47 232.16 61.76 232.16 62.05 232.16 62.35 232.17 62.64 232.17 62.93 232.17 63.23 232.17 63.52 232.18 63.82 232.18 64.11 232.18 64.4 232.18 64.7 232.19 64.99 232.19 65.28 232.19 65.58 232.19 65.87 232.19 66.16 232.2 66.46 232.2 66.75 232.2 67.04 232.2 67.34 232.2 67.63 232.21 67.93 232.21 68.22 232.21 68.51 232.21 68.81 232.21 69.1 232.22 69.39 232.22 69.69 232.22 69.98 232.22 70.27 232.22 70.57 232.23 70.86 232.23 71.16 232.23 71.45 232.23 71.74 232.23 72.04 232.24 72.33 232.24 72.62 232.24 72.92 232.24 73.21 232.24 73.5 232.24 73.8 232.25 74.09 232.25 74.38 232.25 74.68 232.25 74.97 232.25 75.27 232.25 75.56 232.25 75.85 232.26 76.15 232.26 76.44 232.26 76.73 232.26 77.03 232.25 77.32 232.25 77.61 232.25 77.91 232.25 78.2 232.24 78.5 232.23 78.79 232.22 79.08 232.21 79.38 232.2 79.67 232.17 79.96 232.15 80.26 232.11 80.55 232.07 80.84 232.02 81.14 231.95 81.43 231.87 81.72 231.76 82.02 231.62 82.31 231.43 82.61 231.17 82.9 230.79 83.19 230.22 83.49 229.34 83.78 227.98 84.07 225.9 84.37 222.83 84.66 218.44 84.95 212.42 85.25 204.46 85.54 194.28 85.84 181.5 86.13 165.47 86.42 145.79 86.72 126.6 87.01 126.6 87.3 130.31 87.6 151.01 87.89 169.83 88.18 184.98 88.48 197.06 88.77 206.66 89.06 214.11 89.36 219.7 89.65 223.74 89.95 226.53 90.24 228.4 90.53 229.63 90.83 230.42 91.12 230.94 91.41 231.29 91.71 231.53 92 231.71 92.29 231.84 92.59 231.94 92.88 232.02 93.18 232.09 93.47 232.14 93.76 232.18 94.06 232.22 94.35 232.25 94.64 232.27 94.94 232.29 95.23 232.3 95.52 232.31 95.82 232.32 96.11 232.33 96.4 232.34 96.7 232.34 96.99 232.34 97.29 232.35 97.58 232.35 97.87 232.35 98.17 232.36 98.46 232.36 98.75 232.36 99.05 232.36 99.34 232.36 99.63 232.36 99.93 232.36 100.22 232.36 100.52 232.37 100.81 232.37 101.1 232.37 101.4 232.37 101.69 232.37 101.98 232.37 102.28 232.37 102.57 232.37 102.86 232.37 103.16 232.37 103.45 232.38 103.74 232.38 104.04 232.38 104.33 232.38 104.63 232.37 104.92 232.37 105.21 232.36 105.51 232.35 105.8 232.32 106.09 232.28 106.39 232.22 106.68 232.12 106.97 231.99 107.27 231.81 107.56 231.59 107.86 231.3 108.15 230.97 108.44 230.6 108.74 230.21 109.03 229.82 109.32 229.47 109.62 229.18 109.91 228.97 110.2 228.87 110.5 228.88 110.79 228.99 111.08 229.17 111.38 229.42 111.67 229.69 111.97 229.97 112.26 230.23 112.55 230.46 112.85 230.64 113.14 230.79 113.43 230.92 113.73 231.02 114.02 231.12 114.31 231.21 114.61 231.31 114.9 231.41 115.2 231.52 115.49 231.64 115.78 231.75 116.08 231.87 116.37 231.97 116.66 232.06 116.96 232.14 117.25 232.21 117.54 232.27 117.84 232.31 118.13 232.34 118.42 232.37 118.72 232.38 119.01 232.39 119.31 232.4 119.6 232.41 119.89 232.41 120.19 232.42 120.48 232.42 120.77 232.42 121.07 232.42 121.36 232.42 121.65 232.42 121.95 232.42 122.24 232.42 122.54 232.42 122.83 232.42 123.12 232.42 123.42 232.42 123.71 232.43 124 232.43 124.3 232.43 124.59 232.43 124.88 232.43 125.18 232.43 125.47 232.43 125.76 232.43 126.06 232.43 126.35 232.43 126.65 232.43 126.94 232.43 127.23 232.43 127.53 232.43 127.82 232.43 128.11 232.43 128.41 232.43 128.7 232.43 128.99 232.43 129.29 232.44 129.58 232.44 129.88 232.44 130.17 232.44 130.46 232.44 130.76 232.44 131.05 232.44 131.34 232.44 131.64 232.44 131.93 232.44 132.22 232.44 132.52 232.43 132.81 232.43 133.1 232.41 133.4 232.39 133.69 232.36 133.99 232.3 134.28 232.22 134.57 232.12 134.87 232 135.16 231.85 135.45 231.7 135.75 231.55 136.04 231.43 136.33 231.35 136.63 231.32 136.92 231.35 137.22 231.43 137.51 231.55 137.8 231.68 138.1 231.82 138.39 231.93 138.68 232.01 138.98 232.03 139.27 231.99 139.56 231.88 139.86 231.71 140.15 231.49 140.44 231.23 140.74 230.96 141.03 230.72 141.33 230.54 141.62 230.44 141.91 230.44 142.21 230.54 142.5 230.73 142.79 230.97 143.09 231.25 143.38 231.52 143.67 231.77 143.97 231.97 144.26 232.13 144.56 232.24 144.85 232.31 145.14 232.34 145.44 232.34 145.73 232.32 146.02 232.27 146.32 232.21 146.61 232.14 146.9 232.07 147.2 232 147.49 231.94 147.78 231.91 148.08 231.9 148.37 231.92 148.67 231.97 148.96 232.03 149.25 232.11 149.55 232.19 149.84 232.26 150.13 232.32 150.43 232.37 150.72 232.4 151.01 232.43 151.31 232.44 151.6 232.45 151.9 232.46 152.19 232.46 152.48 232.46 152.78 232.47 153.07 232.47 153.36 232.47 153.66 232.47 153.95 232.47 154.24 232.47 154.54 232.47 154.83 232.47 155.12 232.47 155.42 232.47 155.71 232.47 156.01 232.47 156.3 232.47 156.59 232.47 156.89 232.47 157.18 232.47 157.47 232.47 157.77 232.47 158.06 232.47 158.35 232.47 158.65 232.47 158.94 232.47 159.24 232.47 159.53 232.47 159.82 232.47 160.12 232.47 160.41 232.47 160.7 232.47 161 232.47 161.29 232.47 161.58 232.47 161.88 232.47 162.17 232.47 162.46 232.47 162.76 232.48 163.05 232.48 163.35 232.48 163.64 232.48 163.93 232.48 164.23 232.48 164.52 232.48 164.81 232.48 165.11 232.48 165.4 232.48 165.69 232.48 165.99 232.48 166.28 232.48 166.58 232.48 166.87 232.48 167.16 232.48 167.46 232.48 167.75 232.48 168.04 232.48 168.34 232.48 168.63 232.48 168.92 232.48 169.22 232.48 169.51 232.48 169.8 232.48 170.1 232.48 170.39 232.48 170.69 232.48 170.98 232.48 171.27 232.48 171.57 232.48 171.86 232.48 172.15 232.48 172.45 232.48 172.74 232.48 173.03 232.48 173.33 232.48 173.62 232.48 173.92 232.48 174.21 232.48 174.5 232.48 174.8 232.48 175.09 232.48 175.38 232.48 175.68 232.48 175.97 232.48 176.26 232.48 176.56 232.48 176.85 232.48 177.14 232.48 177.44 232.48 177.73 232.49 178.03 232.49 178.32 232.49 178.61 232.49 178.91 232.49 179.2 232.49 179.49 232.49 179.79 232.49 180.08 232.49 180.37 232.49 180.67 232.49 180.96 232.49 181.26 232.49 181.55 232.49 181.84 232.49 182.14 232.49 182.43 232.49 182.72 232.49 183.02 232.49 183.31 232.49 183.6 232.49 183.9 232.49 184.19 232.49 184.48 232.49 184.78 232.49 185.07 232.49 185.37 232.49 185.66 232.49 185.95 232.49 186.25 232.49 186.54 232.49 186.83 232.49 187.13 232.49 187.42 232.49 187.71 232.49 188.01 232.49 188.3 232.49 188.6 232.49 188.89 232.49 189.18 232.49 189.48 232.49 189.77 232.49 190.06 232.49 190.36 232.49 190.65 232.49 190.94 232.49 191.24 232.49 191.53 232.49 191.82 232.49 192.12 232.49 192.41 232.49 192.71 232.49 193 232.49 193.29 232.49 193.59 232.49 193.88 232.49 194.17 232.49 194.47 232.49 194.76 232.49 195.05 232.49 195.35 232.49 195.64 232.49 195.94 232.49 196.23 232.49 196.52 232.49 196.82 232.49 197.11 232.49 197.4 232.49 197.7 232.49 197.99 232.49 198.28 232.49 198.58 232.49 198.87 232.49 199.16 232.49 199.46 232.49 199.75 232.49 200.05 232.5 200.34 232.5 200.63 232.5 200.93 232.5 201.22 232.5 201.51 232.5 201.81 232.5 202.1 232.5 202.39 232.5 202.69 232.5 202.98 232.5 203.28 232.5 203.57 232.5 203.86 232.5 204.16 232.5 204.45 232.5 204.74 232.5 205.04 232.5 205.33 232.5 205.62 232.5 205.92 232.5 206.21 232.5 206.5 232.5 206.8 232.5 207.09 232.5 207.39 232.5 207.68 232.5 207.97 232.5 208.27 232.5 208.56 232.5 208.85 232.5 209.15 232.5 209.44 232.5 209.73 232.5 210.03 232.5 210.32 232.5 210.62 232.5 210.91 232.5 211.2 232.5 211.5 232.5 211.79 232.5 212.08 232.5 212.38 232.5 212.67 232.5 212.96 232.5 213.26 232.5 213.55 232.5 213.84 232.5 214.14 232.5 214.43 232.5 214.73 232.5 215.02 232.5 215.31 232.5 215.61 232.5 215.9 232.5 216.19 232.5 216.49 232.5 216.78 232.5 217.07 232.5 217.37 232.5 217.66 232.5 217.96 232.5 218.25 232.5 218.54 232.5 218.84 232.5 219.13 232.5 219.42 232.5 219.72 232.5 220.01 232.5 220.3 232.5 220.6 232.5 220.89 232.5 221.18 232.5 221.48 232.5 221.77 232.5 222.07 232.5 222.36 232.5 222.65 232.5 222.95 232.5 223.24 232.5 223.53 232.5 223.83 232.5 224.12 232.5 224.41 232.5 224.71 232.5 225 232.5 225.3 232.5 225.59 232.5 225.88 232.5 226.18 232.5 226.47 232.5 226.76 232.5 227.06 232.5 227.35 232.5 227.64 232.5 227.94 232.5 228.23 232.5 228.52 232.5 228.82 232.5 229.11 232.5 229.41 232.5 229.7 232.5 229.99 232.5 230.29 232.5 230.58 232.5 230.87 232.5 231.17 232.5 231.46 232.5 231.75 232.5 232.05 232.5 232.34 232.5 232.64 232.5 232.93 232.5 233.22 232.5 233.52 232.5 233.81 232.5 234.1 232.5 234.4 232.5 234.69 232.5 234.98 232.5 235.28 232.5 235.57 232.5 235.86 232.5 236.16 232.5 236.45 232.5 236.75 232.5 237.04 232.5 237.33 232.5 237.63 232.5 237.92 232.5 238.21 232.5 238.51 232.5 238.8 232.5 239.09 232.5 239.39 232.5 239.68 232.5 239.98 232.5 240.27 232.5 240.56 232.5 240.86 232.5 241.15 232.5 241.44 232.5 241.74 232.5 242.03 232.5 242.32 232.5 242.62 232.5 242.91 232.5 243.2 232.5 243.5 232.5 243.79 232.5 244.09 232.5 244.38 232.5 244.67 232.5 244.97 232.5 245.26 232.5 245.55 232.5 245.85 232.5 246.14 232.5 246.43 232.5 246.73 232.5 247.02 232.5 247.32 232.5 247.61 232.5 247.9 232.5 248.2 232.5 248.49 232.51 248.78 232.51 249.08 232.51 249.37 232.51 249.66 232.51 249.96 232.51 250.25 232.51 250.54 232.51 250.84 232.51 251.13 232.51 251.43 232.51 251.72 232.51 252.01 232.51 252.31 232.51 252.6 232.51 252.89 232.51 253.19 232.51 253.48 232.51 253.77 232.51 254.07 232.51 254.36 232.51 254.66 232.51 254.95 232.51 255.24 232.51 255.54 232.51 255.83 232.51 256.12 232.51 256.42 232.51 256.71 232.51 257 232.51 257.3 232.51 257.59 232.51 257.88 232.51 258.18 232.51 258.47 232.51 258.77 232.51 259.06 232.51 259.35 232.51 259.65 232.51 259.94 232.51 260.23 232.51 260.53 232.51 260.82 232.51 261.11 232.51 261.41 232.51 261.7 232.51 262 232.51 262.29 232.51 262.58 232.51 262.88 232.51 263.17 232.51 263.46 232.51 263.76 232.51 264.05 232.51 264.34 232.51 264.64 232.51 264.93 232.51 265.22 232.51 265.52 232.51 265.81 232.51 266.11 232.51 266.4 232.51 266.69 232.51 266.99 232.51 267.28 232.51 267.57 232.51 267.87 232.51 268.16 232.51 268.45 232.51 268.75 232.51 269.04 232.51 269.34 232.51 269.63 232.51 269.92 232.51 270.22 232.51 270.51 232.51 270.8 232.51 271.1 232.51 271.39 232.51 271.68 232.51 271.98 232.51 272.27 232.51 272.56 232.51 272.86 232.51 273.15 232.51 273.45 232.51 273.74 232.51 274.03 232.51 L274.03 232.6 Z" fill="#000"/>
<line x1="31.4" y1="127" x2="274.2" y2="127" stroke="#adadad" stroke-width="1.6"/>
<line x1="32.4" y1="125.8" x2="32.4" y2="232.6" stroke="#4a4a4a" stroke-width="1.6"/>
<line x1="32.4" y1="232.7" x2="274.2" y2="232.7" stroke="#4d4d4d" stroke-width="2"/>
<rect x="168.8" y="128.8" width="105.7" height="94.8" fill="#efefef"/>
<rect x="191.4" y="128.8" width="83.1" height="81.5" fill="#fff"/>
<path d="M191.4 208.1 L191.5 194.2 195.1 194.2 196.8 192 198.1 189.7 200.1 188.6 201.5 186.9 202.2 181.3 202.2 173.4 202.4 171.5 203 165 203.9 156.4 204.6 145.7 205.3 142 206.5 146.8 207.9 156.4 209 162.9 210 167.2 210.6 171.5 210.8 176.8 211.4 184.6 212.3 192 213.7 194.2 215.4 194.8 217.6 193.7 219.9 194.8 222.7 196.1 226.1 196.1 230 195.7 233 196.5 234.6 192.4 236 186.5 237.6 181.2 239.3 184.9 240.5 189 241.3 189.9 242.6 179.9 243.8 169.9 244.6 166.6 245.8 171.6 247.1 183.2 248.8 193.2 249.9 194 251.3 190.7 252.4 189.9 254.2 194.5 256.2 197.3 258.7 198.2 261.2 198.5 264.5 199 267.9 199.8 271.2 200.7 274.5 201.2 L274.5 208.1 Z" fill="#000" stroke="#000" stroke-width="0.7" stroke-linejoin="round"/>
<line x1="188.4" y1="208.1" x2="191.4" y2="208.1" stroke="#777" stroke-width="1"/>
<text x="186" y="210.8" font-size="6.6" text-anchor="end" textLength="3.72" lengthAdjust="spacingAndGlyphs">0</text>
<line x1="188.4" y1="190.2" x2="191.4" y2="190.2" stroke="#777" stroke-width="1"/>
<text x="186" y="192.9" font-size="6.6" text-anchor="end" textLength="11.16" lengthAdjust="spacingAndGlyphs">500</text>
<line x1="188.4" y1="172.3" x2="191.4" y2="172.3" stroke="#777" stroke-width="1"/>
<text x="186" y="175" font-size="6.6" text-anchor="end" textLength="14.88" lengthAdjust="spacingAndGlyphs">1000</text>
<line x1="188.4" y1="154.4" x2="191.4" y2="154.4" stroke="#777" stroke-width="1"/>
<text x="186" y="157.1" font-size="6.6" text-anchor="end" textLength="14.88" lengthAdjust="spacingAndGlyphs">1500</text>
<line x1="188.4" y1="136.5" x2="191.4" y2="136.5" stroke="#777" stroke-width="1"/>
<text x="186" y="139.2" font-size="6.6" text-anchor="end" textLength="14.88" lengthAdjust="spacingAndGlyphs">2000</text>
<line x1="199.3" y1="208.1" x2="199.3" y2="211.1" stroke="#777" stroke-width="1"/>
<text x="199.3" y="218.3" font-size="6.6" text-anchor="middle">2</text>
<line x1="245" y1="208.1" x2="245" y2="211.1" stroke="#777" stroke-width="1"/>
<text x="245" y="218.3" font-size="6.6" text-anchor="middle">3</text>
<line x1="191.5" y1="128.8" x2="191.5" y2="208.1" stroke="#3a3a3a" stroke-width="1"/>
<line x1="191.4" y1="208" x2="274.5" y2="208" stroke="#333" stroke-width="1"/>
<text x="44.55" y="145.3" font-size="14.8" textLength="15.97" lengthAdjust="spacingAndGlyphs" stroke="#111" stroke-width="0.25">(c)</text>
<text x="63.89" y="145.3" font-size="14.8" textLength="24.35" lengthAdjust="spacingAndGlyphs" stroke="#111" stroke-width="0.25">600</text>
<text x="91.48" y="145.3" font-size="14.8" textLength="15.39" lengthAdjust="spacingAndGlyphs" stroke="#111" stroke-width="0.25">°C</text>
<text x="56.69" y="186.3" font-size="10.6" textLength="24.28" lengthAdjust="spacingAndGlyphs" stroke="#111" stroke-width="0.25">O Kα</text>
<text x="95.35" y="163.4" font-size="10.6" textLength="26.45" lengthAdjust="spacingAndGlyphs" stroke="#111" stroke-width="0.25">Al Kα</text>
<text x="209.53" y="147.6" font-size="10.5" textLength="39.55" lengthAdjust="spacingAndGlyphs" stroke="#111" stroke-width="0.25">Au Mα1</text>
<text x="239.25" y="163" font-size="10.5" textLength="34.33" lengthAdjust="spacingAndGlyphs" stroke="#111" stroke-width="0.25">Ag Lα1</text>
<text x="209.54" y="172.4" font-size="10.5" textLength="34.04" lengthAdjust="spacingAndGlyphs" stroke="#111" stroke-width="0.25">Pd Lα1</text>
<rect x="300.2" y="126.8" width="243" height="108.2" fill="#fff"/>
<line x1="298.4" y1="232.6" x2="302.4" y2="232.6" stroke="#777" stroke-width="1"/>
<text x="296.4" y="235.2" font-size="7.2" text-anchor="end" textLength="4" lengthAdjust="spacingAndGlyphs">0</text>
<line x1="298.4" y1="210.7" x2="302.4" y2="210.7" stroke="#777" stroke-width="1"/>
<text x="296.4" y="213.3" font-size="7.2" text-anchor="end" textLength="20" lengthAdjust="spacingAndGlyphs">10000</text>
<line x1="298.4" y1="188.8" x2="302.4" y2="188.8" stroke="#777" stroke-width="1"/>
<text x="296.4" y="191.4" font-size="7.2" text-anchor="end" textLength="20" lengthAdjust="spacingAndGlyphs">20000</text>
<line x1="298.4" y1="166.9" x2="302.4" y2="166.9" stroke="#777" stroke-width="1"/>
<text x="296.4" y="169.5" font-size="7.2" text-anchor="end" textLength="20" lengthAdjust="spacingAndGlyphs">30000</text>
<line x1="298.4" y1="145" x2="302.4" y2="145" stroke="#777" stroke-width="1"/>
<text x="296.4" y="147.6" font-size="7.2" text-anchor="end" textLength="20" lengthAdjust="spacingAndGlyphs">40000</text>
<line x1="302.4" y1="232.6" x2="302.4" y2="236.1" stroke="#777" stroke-width="1"/>
<text x="302.4" y="243.9" font-size="7.2" text-anchor="middle">0</text>
<line x1="339" y1="232.6" x2="339" y2="236.1" stroke="#777" stroke-width="1"/>
<text x="339" y="243.9" font-size="7.2" text-anchor="middle">1</text>
<line x1="375.6" y1="232.6" x2="375.6" y2="236.1" stroke="#777" stroke-width="1"/>
<text x="375.6" y="243.9" font-size="7.2" text-anchor="middle">2</text>
<line x1="412.2" y1="232.6" x2="412.2" y2="236.1" stroke="#777" stroke-width="1"/>
<text x="412.2" y="243.9" font-size="7.2" text-anchor="middle">3</text>
<line x1="448.8" y1="232.6" x2="448.8" y2="236.1" stroke="#777" stroke-width="1"/>
<text x="448.8" y="243.9" font-size="7.2" text-anchor="middle">4</text>
<line x1="485.4" y1="232.6" x2="485.4" y2="236.1" stroke="#777" stroke-width="1"/>
<text x="485.4" y="243.9" font-size="7.2" text-anchor="middle">5</text>
<line x1="522" y1="232.6" x2="522" y2="236.1" stroke="#777" stroke-width="1"/>
<text x="522" y="243.9" font-size="7.2" text-anchor="middle">6</text>
<path d="M302.4 232.6 L302.4 229.12 302.69 225.82 302.99 222.9 303.28 222.91 303.57 225.83 303.86 229.14 304.16 231.04 304.45 231.71 304.74 231.87 305.04 231.89 305.33 231.9 305.62 231.9 305.91 231.91 306.21 231.91 306.5 231.91 306.79 231.92 307.08 231.92 307.38 231.93 307.67 231.93 307.96 231.93 308.26 231.94 308.55 231.94 308.84 231.94 309.13 231.95 309.43 231.95 309.72 231.95 310.01 231.95 310.31 231.94 310.6 231.9 310.89 231.81 311.18 231.64 311.48 231.37 311.77 231.04 312.06 230.71 312.36 230.49 312.65 230.46 312.94 230.64 313.23 230.96 313.53 231.3 313.82 231.59 314.11 231.78 314.4 231.88 314.7 231.93 314.99 231.94 315.28 231.93 315.58 231.92 315.87 231.89 316.16 231.86 316.45 231.82 316.75 231.77 317.04 231.71 317.33 231.63 317.63 231.53 317.92 231.39 318.21 231.19 318.5 230.88 318.8 230.34 319.09 229.34 319.38 227.52 319.68 224.37 319.97 219.3 320.26 211.87 320.55 202.12 320.85 190.86 321.14 179.83 321.43 171.5 321.72 168.36 322.02 171.51 322.31 179.84 322.6 190.88 322.9 202.14 323.19 211.9 323.48 219.34 323.77 224.41 324.07 227.57 324.36 229.39 324.65 230.39 324.95 230.94 325.24 231.26 325.53 231.47 325.82 231.61 326.12 231.72 326.41 231.8 326.7 231.87 327 231.92 327.29 231.97 327.58 232.01 327.87 232.04 328.17 232.06 328.46 232.08 328.75 232.1 329.04 232.11 329.34 232.12 329.63 232.13 329.92 232.14 330.22 232.15 330.51 232.15 330.8 232.16 331.09 232.16 331.39 232.17 331.68 232.17 331.97 232.17 332.27 232.18 332.56 232.18 332.85 232.18 333.14 232.19 333.44 232.19 333.73 232.19 334.02 232.19 334.32 232.19 334.61 232.2 334.9 232.2 335.19 232.2 335.49 232.2 335.78 232.21 336.07 232.21 336.36 232.21 336.66 232.21 336.95 232.21 337.24 232.22 337.54 232.22 337.83 232.22 338.12 232.22 338.41 232.22 338.71 232.22 339 232.23 339.29 232.23 339.59 232.23 339.88 232.23 340.17 232.23 340.46 232.24 340.76 232.24 341.05 232.24 341.34 232.24 341.64 232.24 341.93 232.25 342.22 232.25 342.51 232.25 342.81 232.25 343.1 232.25 343.39 232.25 343.68 232.26 343.98 232.26 344.27 232.26 344.56 232.26 344.86 232.26 345.15 232.26 345.44 232.26 345.73 232.26 346.03 232.26 346.32 232.26 346.61 232.26 346.91 232.26 347.2 232.26 347.49 232.26 347.78 232.26 348.08 232.25 348.37 232.24 348.66 232.23 348.96 232.22 349.25 232.2 349.54 232.18 349.83 232.16 350.13 232.12 350.42 232.08 350.71 232.03 351 231.96 351.3 231.88 351.59 231.77 351.88 231.63 352.18 231.44 352.47 231.18 352.76 230.8 353.05 230.23 353.35 229.35 353.64 227.99 353.93 225.92 354.23 222.86 354.52 218.48 354.81 212.46 355.1 204.52 355.4 194.36 355.69 181.6 355.98 165.6 356.28 145.96 356.57 126.8 356.86 126.8 357.15 130.51 357.45 151.17 357.74 169.96 358.03 185.08 358.32 197.14 358.62 206.72 358.91 214.15 359.2 219.74 359.5 223.76 359.79 226.55 360.08 228.42 360.37 229.64 360.67 230.43 360.96 230.95 361.25 231.3 361.55 231.54 361.84 231.71 362.13 231.85 362.42 231.95 362.72 232.03 363.01 232.1 363.3 232.15 363.6 232.19 363.89 232.23 364.18 232.25 364.47 232.28 364.77 232.29 365.06 232.31 365.35 232.32 365.64 232.33 365.94 232.34 366.23 232.34 366.52 232.35 366.82 232.35 367.11 232.35 367.4 232.36 367.69 232.36 367.99 232.36 368.28 232.36 368.57 232.37 368.87 232.37 369.16 232.37 369.45 232.37 369.74 232.37 370.04 232.37 370.33 232.37 370.62 232.37 370.92 232.37 371.21 232.38 371.5 232.38 371.79 232.38 372.09 232.38 372.38 232.38 372.67 232.38 372.96 232.38 373.26 232.38 373.55 232.38 373.84 232.38 374.14 232.38 374.43 232.38 374.72 232.38 375.01 232.37 375.31 232.35 375.6 232.33 375.89 232.29 376.19 232.23 376.48 232.14 376.77 232.01 377.06 231.84 377.36 231.61 377.65 231.34 377.94 231.01 378.24 230.65 378.53 230.27 378.82 229.89 379.11 229.55 379.41 229.27 379.7 229.07 379.99 228.97 380.28 228.98 380.58 229.08 380.87 229.27 381.16 229.51 381.46 229.77 381.75 230.04 382.04 230.29 382.33 230.51 382.63 230.7 382.92 230.84 383.21 230.96 383.51 231.06 383.8 231.16 384.09 231.25 384.38 231.34 384.68 231.44 384.97 231.55 385.26 231.66 385.56 231.78 385.85 231.89 386.14 231.99 386.43 232.08 386.73 232.16 387.02 232.22 387.31 232.28 387.6 232.32 387.9 232.35 388.19 232.37 388.48 232.39 388.78 232.4 389.07 232.41 389.36 232.41 389.65 232.42 389.95 232.42 390.24 232.42 390.53 232.42 390.83 232.42 391.12 232.43 391.41 232.43 391.7 232.43 392 232.43 392.29 232.43 392.58 232.43 392.88 232.43 393.17 232.43 393.46 232.43 393.75 232.43 394.05 232.43 394.34 232.43 394.63 232.43 394.92 232.43 395.22 232.43 395.51 232.43 395.8 232.43 396.1 232.43 396.39 232.44 396.68 232.44 396.97 232.44 397.27 232.44 397.56 232.44 397.85 232.44 398.15 232.44 398.44 232.44 398.73 232.44 399.02 232.44 399.32 232.44 399.61 232.44 399.9 232.44 400.2 232.44 400.49 232.44 400.78 232.44 401.07 232.44 401.37 232.44 401.66 232.44 401.95 232.44 402.24 232.44 402.54 232.43 402.83 232.42 403.12 232.4 403.42 232.36 403.71 232.31 404 232.23 404.29 232.14 404.59 232.01 404.88 231.87 405.17 231.72 405.47 231.58 405.76 231.46 406.05 231.38 406.34 231.36 406.64 231.38 406.93 231.46 407.22 231.57 407.52 231.71 407.81 231.84 408.1 231.95 408.39 232.02 408.69 232.05 408.98 232.01 409.27 231.9 409.56 231.74 409.86 231.52 410.15 231.27 410.44 231.01 410.74 230.77 411.03 230.59 411.32 230.5 411.61 230.5 411.91 230.6 412.2 230.78 412.49 231.02 412.79 231.29 413.08 231.55 413.37 231.79 413.66 231.99 413.96 232.14 414.25 232.25 414.54 232.32 414.84 232.35 415.13 232.35 415.42 232.33 415.71 232.28 416.01 232.22 416.3 232.15 416.59 232.08 416.88 232.01 417.18 231.96 417.47 231.92 417.76 231.92 418.06 231.94 418.35 231.98 418.64 232.05 418.93 232.12 419.23 232.2 419.52 232.27 419.81 232.32 420.11 232.37 420.4 232.41 420.69 232.43 420.98 232.45 421.28 232.46 421.57 232.46 421.86 232.47 422.16 232.47 422.45 232.47 422.74 232.47 423.03 232.47 423.33 232.47 423.62 232.47 423.91 232.47 424.2 232.47 424.5 232.47 424.79 232.47 425.08 232.47 425.38 232.47 425.67 232.47 425.96 232.47 426.25 232.47 426.55 232.47 426.84 232.47 427.13 232.47 427.43 232.47 427.72 232.47 428.01 232.47 428.3 232.48 428.6 232.48 428.89 232.48 429.18 232.48 429.48 232.48 429.77 232.48 430.06 232.48 430.35 232.48 430.65 232.48 430.94 232.48 431.23 232.48 431.52 232.48 431.82 232.48 432.11 232.48 432.4 232.48 432.7 232.48 432.99 232.48 433.28 232.48 433.57 232.48 433.87 232.48 434.16 232.48 434.45 232.48 434.75 232.48 435.04 232.48 435.33 232.48 435.62 232.48 435.92 232.48 436.21 232.48 436.5 232.48 436.8 232.48 437.09 232.48 437.38 232.48 437.67 232.48 437.97 232.48 438.26 232.48 438.55 232.48 438.84 232.48 439.14 232.48 439.43 232.48 439.72 232.48 440.02 232.48 440.31 232.48 440.6 232.48 440.89 232.48 441.19 232.48 441.48 232.48 441.77 232.48 442.07 232.49 442.36 232.49 442.65 232.49 442.94 232.49 443.24 232.49 443.53 232.49 443.82 232.49 444.12 232.49 444.41 232.49 444.7 232.49 444.99 232.49 445.29 232.49 445.58 232.49 445.87 232.49 446.16 232.49 446.46 232.49 446.75 232.49 447.04 232.49 447.34 232.49 447.63 232.49 447.92 232.49 448.21 232.49 448.51 232.49 448.8 232.49 449.09 232.49 449.39 232.49 449.68 232.49 449.97 232.49 450.26 232.49 450.56 232.49 450.85 232.49 451.14 232.49 451.44 232.49 451.73 232.49 452.02 232.49 452.31 232.49 452.61 232.49 452.9 232.49 453.19 232.49 453.48 232.49 453.78 232.49 454.07 232.49 454.36 232.49 454.66 232.49 454.95 232.49 455.24 232.49 455.53 232.49 455.83 232.49 456.12 232.49 456.41 232.49 456.71 232.49 457 232.49 457.29 232.49 457.58 232.49 457.88 232.49 458.17 232.49 458.46 232.49 458.76 232.49 459.05 232.49 459.34 232.49 459.63 232.49 459.93 232.49 460.22 232.49 460.51 232.49 460.8 232.49 461.1 232.49 461.39 232.49 461.68 232.49 461.98 232.5 462.27 232.5 462.56 232.5 462.85 232.5 463.15 232.5 463.44 232.5 463.73 232.5 464.03 232.5 464.32 232.5 464.61 232.5 464.9 232.5 465.2 232.5 465.49 232.5 465.78 232.5 466.08 232.5 466.37 232.5 466.66 232.5 466.95 232.5 467.25 232.5 467.54 232.5 467.83 232.5 468.12 232.5 468.42 232.5 468.71 232.5 469 232.5 469.3 232.5 469.59 232.5 469.88 232.5 470.17 232.5 470.47 232.5 470.76 232.5 471.05 232.5 471.35 232.5 471.64 232.5 471.93 232.5 472.22 232.5 472.52 232.5 472.81 232.5 473.1 232.5 473.4 232.5 473.69 232.5 473.98 232.5 474.27 232.5 474.57 232.5 474.86 232.5 475.15 232.5 475.44 232.5 475.74 232.5 476.03 232.5 476.32 232.5 476.62 232.5 476.91 232.5 477.2 232.5 477.49 232.5 477.79 232.5 478.08 232.5 478.37 232.5 478.67 232.5 478.96 232.5 479.25 232.5 479.54 232.5 479.84 232.5 480.13 232.5 480.42 232.5 480.72 232.5 481.01 232.5 481.3 232.5 481.59 232.5 481.89 232.5 482.18 232.5 482.47 232.5 482.76 232.5 483.06 232.5 483.35 232.5 483.64 232.5 483.94 232.5 484.23 232.5 484.52 232.5 484.81 232.5 485.11 232.5 485.4 232.5 485.69 232.5 485.99 232.5 486.28 232.5 486.57 232.5 486.86 232.5 487.16 232.5 487.45 232.5 487.74 232.5 488.04 232.5 488.33 232.5 488.62 232.5 488.91 232.5 489.21 232.5 489.5 232.5 489.79 232.5 490.08 232.5 490.38 232.5 490.67 232.5 490.96 232.5 491.26 232.5 491.55 232.5 491.84 232.5 492.13 232.5 492.43 232.5 492.72 232.5 493.01 232.5 493.31 232.5 493.6 232.5 493.89 232.5 494.18 232.5 494.48 232.5 494.77 232.5 495.06 232.5 495.36 232.5 495.65 232.5 495.94 232.5 496.23 232.5 496.53 232.5 496.82 232.5 497.11 232.5 497.4 232.5 497.7 232.5 497.99 232.5 498.28 232.5 498.58 232.5 498.87 232.5 499.16 232.5 499.45 232.51 499.75 232.51 500.04 232.51 500.33 232.51 500.63 232.51 500.92 232.51 501.21 232.51 501.5 232.51 501.8 232.51 502.09 232.51 502.38 232.51 502.68 232.51 502.97 232.51 503.26 232.51 503.55 232.51 503.85 232.51 504.14 232.51 504.43 232.51 504.72 232.51 505.02 232.51 505.31 232.51 505.6 232.51 505.9 232.51 506.19 232.51 506.48 232.51 506.77 232.51 507.07 232.51 507.36 232.51 507.65 232.51 507.95 232.51 508.24 232.51 508.53 232.51 508.82 232.51 509.12 232.51 509.41 232.51 509.7 232.51 510 232.51 510.29 232.51 510.58 232.51 510.87 232.51 511.17 232.51 511.46 232.51 511.75 232.51 512.04 232.51 512.34 232.51 512.63 232.51 512.92 232.51 513.22 232.51 513.51 232.51 513.8 232.51 514.09 232.51 514.39 232.51 514.68 232.51 514.97 232.51 515.27 232.51 515.56 232.51 515.85 232.51 516.14 232.51 516.44 232.51 516.73 232.51 517.02 232.51 517.32 232.51 517.61 232.51 517.9 232.51 518.19 232.51 518.49 232.51 518.78 232.51 519.07 232.51 519.36 232.51 519.66 232.51 519.95 232.51 520.24 232.51 520.54 232.51 520.83 232.51 521.12 232.51 521.41 232.51 521.71 232.51 522 232.51 522.29 232.51 522.59 232.51 522.88 232.51 523.17 232.51 523.46 232.51 523.76 232.51 524.05 232.51 524.34 232.51 524.64 232.51 524.93 232.51 525.22 232.51 525.51 232.51 525.81 232.51 526.1 232.51 526.39 232.51 526.68 232.51 526.98 232.51 527.27 232.51 527.56 232.51 527.86 232.51 528.15 232.51 528.44 232.51 528.73 232.51 529.03 232.51 529.32 232.51 529.61 232.51 529.91 232.51 530.2 232.51 530.49 232.51 530.78 232.51 531.08 232.51 531.37 232.51 531.66 232.51 531.96 232.51 532.25 232.51 532.54 232.51 532.83 232.51 533.13 232.51 533.42 232.51 533.71 232.51 534 232.51 534.3 232.51 534.59 232.51 534.88 232.51 535.18 232.51 535.47 232.51 535.76 232.51 536.05 232.51 536.35 232.51 536.64 232.51 536.93 232.51 537.23 232.51 537.52 232.51 537.81 232.51 538.1 232.51 538.4 232.51 538.69 232.51 538.98 232.51 539.28 232.51 539.57 232.51 539.86 232.51 540.15 232.51 540.45 232.51 540.74 232.51 541.03 232.51 541.32 232.51 541.62 232.51 541.91 232.51 542.2 232.51 542.5 232.51 542.79 232.51 543.08 232.51 L543.08 232.6 Z" fill="#000"/>
<line x1="301.4" y1="127.2" x2="543.2" y2="127.2" stroke="#adadad" stroke-width="1.6"/>
<line x1="302.4" y1="126" x2="302.4" y2="232.6" stroke="#4a4a4a" stroke-width="1.6"/>
<line x1="302.4" y1="232.7" x2="543.2" y2="232.7" stroke="#4d4d4d" stroke-width="2"/>
<rect x="437.4" y="128.5" width="104.6" height="95.2" fill="#efefef"/>
<rect x="458.6" y="128.5" width="83.4" height="86.6" fill="#fff"/>
<path d="M458.6 212.9 L458.6 198.9 462 198.7 463.8 197.1 465.6 193.5 467.4 191.1 468.7 186.9 469.4 173.6 469.9 167.2 470.5 156.4 471 145.7 471.9 138.4 472.6 143.6 473.7 153.2 475.1 160.7 475.8 167.2 476.4 173.6 476.7 177.2 477.7 186.9 478.7 196.5 480.1 199.5 481.9 200.1 483.7 198.9 484.9 198.7 486.7 200.1 489.1 201.6 494 201 497.5 201.5 500.1 201 501.3 197.1 502.7 191 504.1 185.8 504.8 184 505.9 186.6 507.1 193.6 508 194.5 509.4 188.4 510.6 183.2 511.5 181.4 512.7 186.6 514.1 195.4 515.8 199.7 518.1 199.2 520.2 200.6 522.8 202.4 526.3 203.2 530.6 204.1 535.9 205 542 205.5 L542 212.9 Z" fill="#000" stroke="#000" stroke-width="0.7" stroke-linejoin="round"/>
<line x1="455.6" y1="212.9" x2="458.6" y2="212.9" stroke="#777" stroke-width="1"/>
<text x="453.2" y="215.6" font-size="6.6" text-anchor="end" textLength="3.72" lengthAdjust="spacingAndGlyphs">0</text>
<line x1="455.6" y1="195.2" x2="458.6" y2="195.2" stroke="#777" stroke-width="1"/>
<text x="453.2" y="197.9" font-size="6.6" text-anchor="end" textLength="11.16" lengthAdjust="spacingAndGlyphs">500</text>
<line x1="455.6" y1="177.5" x2="458.6" y2="177.5" stroke="#777" stroke-width="1"/>
<text x="453.2" y="180.2" font-size="6.6" text-anchor="end" textLength="14.88" lengthAdjust="spacingAndGlyphs">1000</text>
<line x1="455.6" y1="159.8" x2="458.6" y2="159.8" stroke="#777" stroke-width="1"/>
<text x="453.2" y="162.5" font-size="6.6" text-anchor="end" textLength="14.88" lengthAdjust="spacingAndGlyphs">1500</text>
<line x1="455.6" y1="142.1" x2="458.6" y2="142.1" stroke="#777" stroke-width="1"/>
<text x="453.2" y="144.8" font-size="6.6" text-anchor="end" textLength="14.88" lengthAdjust="spacingAndGlyphs">2000</text>
<line x1="466" y1="212.9" x2="466" y2="215.9" stroke="#777" stroke-width="1"/>
<text x="466" y="223.1" font-size="6.6" text-anchor="middle">2</text>
<line x1="512" y1="212.9" x2="512" y2="215.9" stroke="#777" stroke-width="1"/>
<text x="512" y="223.1" font-size="6.6" text-anchor="middle">3</text>
<line x1="458.5" y1="128.5" x2="458.5" y2="212.9" stroke="#3a3a3a" stroke-width="1"/>
<line x1="458.6" y1="212.8" x2="542" y2="212.8" stroke="#333" stroke-width="1"/>
<text x="310.65" y="144.5" font-size="14.8" textLength="19.26" lengthAdjust="spacingAndGlyphs" stroke="#111" stroke-width="0.25">(d)</text>
<text x="332.34" y="144.5" font-size="14.8" textLength="24.39" lengthAdjust="spacingAndGlyphs" stroke="#111" stroke-width="0.25">700</text>
<text x="359.28" y="144.5" font-size="14.8" textLength="15.39" lengthAdjust="spacingAndGlyphs" stroke="#111" stroke-width="0.25">°C</text>
<text x="326.19" y="182.4" font-size="10.6" textLength="24.79" lengthAdjust="spacingAndGlyphs" stroke="#111" stroke-width="0.25">O Kα</text>
<text x="367.55" y="163.4" font-size="10.6" textLength="26.35" lengthAdjust="spacingAndGlyphs" stroke="#111" stroke-width="0.25">Al Kα</text>
<text x="475.42" y="140.8" font-size="10.5" textLength="40.66" lengthAdjust="spacingAndGlyphs" stroke="#111" stroke-width="0.25">Au Mα1</text>
<text x="503.75" y="169" font-size="10.5" textLength="34.33" lengthAdjust="spacingAndGlyphs" stroke="#111" stroke-width="0.25">Ag Lα1</text>
<text x="477.84" y="180.3" font-size="10.5" textLength="34.04" lengthAdjust="spacingAndGlyphs" stroke="#111" stroke-width="0.25">Pd Lα1</text>
<rect x="31.7" y="248.6" width="242.5" height="108.1" fill="#fff"/>
<line x1="29.9" y1="354.3" x2="33.9" y2="354.3" stroke="#777" stroke-width="1"/>
<text x="27.9" y="356.9" font-size="7.2" text-anchor="end" textLength="4" lengthAdjust="spacingAndGlyphs">0</text>
<line x1="29.9" y1="333.5" x2="33.9" y2="333.5" stroke="#777" stroke-width="1"/>
<text x="27.9" y="336.1" font-size="7.2" text-anchor="end" textLength="20" lengthAdjust="spacingAndGlyphs">10000</text>
<line x1="29.9" y1="312.7" x2="33.9" y2="312.7" stroke="#777" stroke-width="1"/>
<text x="27.9" y="315.3" font-size="7.2" text-anchor="end" textLength="20" lengthAdjust="spacingAndGlyphs">20000</text>
<line x1="29.9" y1="291.9" x2="33.9" y2="291.9" stroke="#777" stroke-width="1"/>
<text x="27.9" y="294.5" font-size="7.2" text-anchor="end" textLength="20" lengthAdjust="spacingAndGlyphs">30000</text>
<line x1="29.9" y1="271.1" x2="33.9" y2="271.1" stroke="#777" stroke-width="1"/>
<text x="27.9" y="273.7" font-size="7.2" text-anchor="end" textLength="20" lengthAdjust="spacingAndGlyphs">40000</text>
<line x1="29.9" y1="250.3" x2="33.9" y2="250.3" stroke="#777" stroke-width="1"/>
<text x="27.9" y="252.9" font-size="7.2" text-anchor="end" textLength="20" lengthAdjust="spacingAndGlyphs">50000</text>
<line x1="33.9" y1="354.3" x2="33.9" y2="357.8" stroke="#777" stroke-width="1"/>
<text x="33.9" y="365.6" font-size="7.2" text-anchor="middle">0</text>
<line x1="70.7" y1="354.3" x2="70.7" y2="357.8" stroke="#777" stroke-width="1"/>
<text x="70.7" y="365.6" font-size="7.2" text-anchor="middle">1</text>
<line x1="107.5" y1="354.3" x2="107.5" y2="357.8" stroke="#777" stroke-width="1"/>
<text x="107.5" y="365.6" font-size="7.2" text-anchor="middle">2</text>
<line x1="144.3" y1="354.3" x2="144.3" y2="357.8" stroke="#777" stroke-width="1"/>
<text x="144.3" y="365.6" font-size="7.2" text-anchor="middle">3</text>
<line x1="181.1" y1="354.3" x2="181.1" y2="357.8" stroke="#777" stroke-width="1"/>
<text x="181.1" y="365.6" font-size="7.2" text-anchor="middle">4</text>
<line x1="217.9" y1="354.3" x2="217.9" y2="357.8" stroke="#777" stroke-width="1"/>
<text x="217.9" y="365.6" font-size="7.2" text-anchor="middle">5</text>
<line x1="254.7" y1="354.3" x2="254.7" y2="357.8" stroke="#777" stroke-width="1"/>
<text x="254.7" y="365.6" font-size="7.2" text-anchor="middle">6</text>
<path d="M33.9 354.3 L33.9 350.69 34.19 347.2 34.49 344.1 34.78 344.1 35.08 347.21 35.37 350.71 35.67 352.73 35.96 353.44 36.26 353.6 36.55 353.63 36.84 353.63 37.14 353.64 37.43 353.64 37.73 353.64 38.02 353.65 38.32 353.65 38.61 353.66 38.9 353.66 39.2 353.66 39.49 353.67 39.79 353.67 40.08 353.67 40.38 353.68 40.67 353.68 40.97 353.68 41.26 353.69 41.55 353.68 41.85 353.67 42.14 353.63 42.44 353.55 42.73 353.39 43.03 353.13 43.32 352.82 43.62 352.5 43.91 352.3 44.2 352.27 44.5 352.44 44.79 352.74 45.09 353.06 45.38 353.33 45.68 353.52 45.97 353.61 46.26 353.66 46.56 353.66 46.85 353.65 47.15 353.64 47.44 353.61 47.74 353.58 48.03 353.53 48.33 353.48 48.62 353.41 48.91 353.33 49.21 353.21 49.5 353.06 49.8 352.85 50.09 352.51 50.39 351.92 50.68 350.84 50.98 348.87 51.27 345.46 51.56 339.96 51.86 331.91 52.15 321.34 52.45 309.14 52.74 297.19 53.04 288.16 53.33 284.76 53.62 288.17 53.92 297.2 54.21 309.15 54.51 321.36 54.8 331.94 55.1 339.99 55.39 345.5 55.69 348.91 55.98 350.89 56.27 351.97 56.57 352.57 56.86 352.91 57.16 353.13 57.45 353.29 57.75 353.41 58.04 353.5 58.34 353.57 58.63 353.63 58.92 353.68 59.22 353.72 59.51 353.75 59.81 353.78 60.1 353.8 60.4 353.82 60.69 353.83 60.98 353.84 61.28 353.85 61.57 353.86 61.87 353.87 62.16 353.87 62.46 353.88 62.75 353.88 63.05 353.89 63.34 353.89 63.63 353.9 63.93 353.9 64.22 353.9 64.52 353.9 64.81 353.91 65.11 353.91 65.4 353.91 65.7 353.91 65.99 353.91 66.28 353.92 66.58 353.92 66.87 353.92 67.17 353.92 67.46 353.92 67.76 353.93 68.05 353.93 68.34 353.93 68.64 353.93 68.93 353.93 69.23 353.94 69.52 353.94 69.82 353.94 70.11 353.94 70.41 353.94 70.7 353.95 70.99 353.95 71.29 353.95 71.58 353.95 71.88 353.95 72.17 353.95 72.47 353.96 72.76 353.96 73.06 353.96 73.35 353.96 73.64 353.96 73.94 353.96 74.23 353.97 74.53 353.97 74.82 353.97 75.12 353.97 75.41 353.97 75.7 353.97 76 353.98 76.29 353.98 76.59 353.98 76.88 353.98 77.18 353.98 77.47 353.98 77.77 353.98 78.06 353.98 78.35 353.98 78.65 353.98 78.94 353.98 79.24 353.98 79.53 353.97 79.83 353.97 80.12 353.96 80.42 353.95 80.71 353.94 81 353.92 81.3 353.9 81.59 353.87 81.89 353.84 82.18 353.8 82.48 353.74 82.77 353.68 83.06 353.59 83.36 353.49 83.65 353.35 83.95 353.16 84.24 352.9 84.54 352.52 84.83 351.95 85.13 351.07 85.42 349.71 85.71 347.64 86.01 344.58 86.3 340.21 86.6 334.2 86.89 326.26 87.19 316.11 87.48 303.36 87.78 287.38 88.07 267.76 88.36 248.6 88.66 248.6 88.95 252.32 89.25 272.96 89.54 291.73 89.84 306.83 90.13 318.89 90.42 328.45 90.72 335.89 91.01 341.46 91.31 345.48 91.6 348.27 91.9 350.13 92.19 351.35 92.49 352.15 92.78 352.66 93.07 353.01 93.37 353.25 93.66 353.43 93.96 353.56 94.25 353.66 94.55 353.74 94.84 353.81 95.14 353.86 95.43 353.9 95.72 353.94 96.02 353.97 96.31 353.99 96.61 354.01 96.9 354.02 97.2 354.03 97.49 354.04 97.78 354.05 98.08 354.05 98.37 354.06 98.67 354.06 98.96 354.07 99.26 354.07 99.55 354.07 99.85 354.07 100.14 354.08 100.43 354.08 100.73 354.08 101.02 354.08 101.32 354.08 101.61 354.08 101.91 354.08 102.2 354.08 102.5 354.08 102.79 354.09 103.08 354.09 103.38 354.09 103.67 354.09 103.97 354.09 104.26 354.09 104.56 354.09 104.85 354.09 105.14 354.09 105.44 354.09 105.73 354.09 106.03 354.09 106.32 354.09 106.62 354.09 106.91 354.08 107.21 354.07 107.5 354.04 107.79 354 108.09 353.95 108.38 353.86 108.68 353.74 108.97 353.57 109.27 353.36 109.56 353.1 109.86 352.79 110.15 352.45 110.44 352.09 110.74 351.73 111.03 351.4 111.33 351.14 111.62 350.95 111.92 350.86 112.21 350.86 112.5 350.96 112.8 351.13 113.09 351.36 113.39 351.61 113.68 351.87 113.98 352.11 114.27 352.32 114.57 352.49 114.86 352.63 115.15 352.74 115.45 352.84 115.74 352.93 116.04 353.01 116.33 353.1 116.63 353.2 116.92 353.3 117.22 353.41 117.51 353.52 117.8 353.62 118.1 353.72 118.39 353.8 118.69 353.88 118.98 353.94 119.28 353.99 119.57 354.03 119.86 354.06 120.16 354.08 120.45 354.1 120.75 354.11 121.04 354.12 121.34 354.12 121.63 354.13 121.93 354.13 122.22 354.13 122.51 354.13 122.81 354.13 123.1 354.13 123.4 354.13 123.69 354.14 123.99 354.14 124.28 354.14 124.58 354.14 124.87 354.14 125.16 354.14 125.46 354.14 125.75 354.14 126.05 354.14 126.34 354.14 126.64 354.14 126.93 354.14 127.22 354.14 127.52 354.14 127.81 354.14 128.11 354.14 128.4 354.14 128.7 354.14 128.99 354.14 129.29 354.14 129.58 354.15 129.87 354.15 130.17 354.15 130.46 354.15 130.76 354.15 131.05 354.15 131.35 354.15 131.64 354.15 131.94 354.15 132.23 354.15 132.52 354.15 132.82 354.15 133.11 354.15 133.41 354.15 133.7 354.15 134 354.15 134.29 354.15 134.58 354.14 134.88 354.13 135.17 354.11 135.47 354.07 135.76 354.02 136.06 353.95 136.35 353.86 136.65 353.74 136.94 353.61 137.23 353.47 137.53 353.33 137.82 353.22 138.12 353.14 138.41 353.12 138.71 353.14 139 353.22 139.3 353.32 139.59 353.45 139.88 353.58 140.18 353.68 140.47 353.75 140.77 353.77 141.06 353.74 141.36 353.64 141.65 353.48 141.94 353.27 142.24 353.03 142.53 352.79 142.83 352.57 143.12 352.4 143.42 352.3 143.71 352.3 144.01 352.4 144.3 352.57 144.59 352.8 144.89 353.05 145.18 353.3 145.48 353.53 145.77 353.72 146.07 353.87 146.36 353.97 146.66 354.03 146.95 354.06 147.24 354.06 147.54 354.04 147.83 354 148.13 353.94 148.42 353.88 148.72 353.81 149.01 353.74 149.3 353.69 149.6 353.66 149.89 353.65 150.19 353.67 150.48 353.72 150.78 353.78 151.07 353.85 151.37 353.92 151.66 353.98 151.95 354.04 152.25 354.08 152.54 354.12 152.84 354.14 153.13 354.15 153.43 354.16 153.72 354.17 154.02 354.17 154.31 354.17 154.6 354.18 154.9 354.18 155.19 354.18 155.49 354.18 155.78 354.18 156.08 354.18 156.37 354.18 156.66 354.18 156.96 354.18 157.25 354.18 157.55 354.18 157.84 354.18 158.14 354.18 158.43 354.18 158.73 354.18 159.02 354.18 159.31 354.18 159.61 354.18 159.9 354.18 160.2 354.18 160.49 354.18 160.79 354.18 161.08 354.18 161.38 354.18 161.67 354.18 161.96 354.18 162.26 354.18 162.55 354.18 162.85 354.18 163.14 354.18 163.44 354.18 163.73 354.18 164.02 354.18 164.32 354.18 164.61 354.18 164.91 354.18 165.2 354.18 165.5 354.19 165.79 354.19 166.09 354.19 166.38 354.19 166.67 354.19 166.97 354.19 167.26 354.19 167.56 354.19 167.85 354.19 168.15 354.19 168.44 354.19 168.74 354.19 169.03 354.19 169.32 354.19 169.62 354.19 169.91 354.19 170.21 354.19 170.5 354.19 170.8 354.19 171.09 354.19 171.38 354.19 171.68 354.19 171.97 354.19 172.27 354.19 172.56 354.19 172.86 354.19 173.15 354.19 173.45 354.19 173.74 354.19 174.03 354.19 174.33 354.19 174.62 354.19 174.92 354.19 175.21 354.19 175.51 354.19 175.8 354.19 176.1 354.19 176.39 354.19 176.68 354.19 176.98 354.19 177.27 354.19 177.57 354.19 177.86 354.19 178.16 354.19 178.45 354.19 178.74 354.19 179.04 354.19 179.33 354.19 179.63 354.19 179.92 354.19 180.22 354.19 180.51 354.19 180.81 354.19 181.1 354.19 181.39 354.19 181.69 354.19 181.98 354.19 182.28 354.2 182.57 354.2 182.87 354.2 183.16 354.2 183.46 354.2 183.75 354.2 184.04 354.2 184.34 354.2 184.63 354.2 184.93 354.2 185.22 354.2 185.52 354.2 185.81 354.2 186.1 354.2 186.4 354.2 186.69 354.2 186.99 354.2 187.28 354.2 187.58 354.2 187.87 354.2 188.17 354.2 188.46 354.2 188.75 354.2 189.05 354.2 189.34 354.2 189.64 354.2 189.93 354.2 190.23 354.2 190.52 354.2 190.82 354.2 191.11 354.2 191.4 354.2 191.7 354.2 191.99 354.2 192.29 354.2 192.58 354.2 192.88 354.2 193.17 354.2 193.46 354.2 193.76 354.2 194.05 354.2 194.35 354.2 194.64 354.2 194.94 354.2 195.23 354.2 195.53 354.2 195.82 354.2 196.11 354.2 196.41 354.2 196.7 354.2 197 354.2 197.29 354.2 197.59 354.2 197.88 354.2 198.18 354.2 198.47 354.2 198.76 354.2 199.06 354.2 199.35 354.2 199.65 354.2 199.94 354.2 200.24 354.2 200.53 354.2 200.82 354.2 201.12 354.2 201.41 354.2 201.71 354.2 202 354.2 202.3 354.2 202.59 354.2 202.89 354.2 203.18 354.2 203.47 354.2 203.77 354.2 204.06 354.2 204.36 354.2 204.65 354.2 204.95 354.2 205.24 354.2 205.54 354.2 205.83 354.2 206.12 354.2 206.42 354.2 206.71 354.2 207.01 354.2 207.3 354.2 207.6 354.2 207.89 354.2 208.18 354.2 208.48 354.2 208.77 354.2 209.07 354.2 209.36 354.21 209.66 354.21 209.95 354.21 210.25 354.21 210.54 354.21 210.83 354.21 211.13 354.21 211.42 354.21 211.72 354.21 212.01 354.21 212.31 354.21 212.6 354.21 212.9 354.21 213.19 354.21 213.48 354.21 213.78 354.21 214.07 354.21 214.37 354.21 214.66 354.21 214.96 354.21 215.25 354.21 215.54 354.21 215.84 354.21 216.13 354.21 216.43 354.21 216.72 354.21 217.02 354.21 217.31 354.21 217.61 354.21 217.9 354.21 218.19 354.21 218.49 354.21 218.78 354.21 219.08 354.21 219.37 354.21 219.67 354.21 219.96 354.21 220.26 354.21 220.55 354.21 220.84 354.21 221.14 354.21 221.43 354.21 221.73 354.21 222.02 354.21 222.32 354.21 222.61 354.21 222.9 354.21 223.2 354.21 223.49 354.21 223.79 354.21 224.08 354.21 224.38 354.21 224.67 354.21 224.97 354.21 225.26 354.21 225.55 354.21 225.85 354.21 226.14 354.21 226.44 354.21 226.73 354.21 227.03 354.21 227.32 354.21 227.62 354.21 227.91 354.21 228.2 354.21 228.5 354.21 228.79 354.21 229.09 354.21 229.38 354.21 229.68 354.21 229.97 354.21 230.26 354.21 230.56 354.21 230.85 354.21 231.15 354.21 231.44 354.21 231.74 354.21 232.03 354.21 232.33 354.21 232.62 354.21 232.91 354.21 233.21 354.21 233.5 354.21 233.8 354.21 234.09 354.21 234.39 354.21 234.68 354.21 234.98 354.21 235.27 354.21 235.56 354.21 235.86 354.21 236.15 354.21 236.45 354.21 236.74 354.21 237.04 354.21 237.33 354.21 237.62 354.21 237.92 354.21 238.21 354.21 238.51 354.21 238.8 354.21 239.1 354.21 239.39 354.21 239.69 354.21 239.98 354.21 240.27 354.21 240.57 354.21 240.86 354.21 241.16 354.21 241.45 354.21 241.75 354.21 242.04 354.21 242.34 354.21 242.63 354.21 242.92 354.21 243.22 354.21 243.51 354.21 243.81 354.21 244.1 354.21 244.4 354.21 244.69 354.21 244.98 354.21 245.28 354.21 245.57 354.21 245.87 354.21 246.16 354.21 246.46 354.21 246.75 354.21 247.05 354.21 247.34 354.21 247.63 354.21 247.93 354.21 248.22 354.21 248.52 354.21 248.81 354.21 249.11 354.21 249.4 354.21 249.7 354.21 249.99 354.21 250.28 354.21 250.58 354.21 250.87 354.21 251.17 354.21 251.46 354.21 251.76 354.21 252.05 354.21 252.34 354.21 252.64 354.21 252.93 354.21 253.23 354.21 253.52 354.21 253.82 354.21 254.11 354.21 254.41 354.21 254.7 354.21 254.99 354.21 255.29 354.21 255.58 354.21 255.88 354.21 256.17 354.21 256.47 354.21 256.76 354.21 257.06 354.21 257.35 354.21 257.64 354.21 257.94 354.21 258.23 354.21 258.53 354.21 258.82 354.21 259.12 354.21 259.41 354.21 259.7 354.21 260 354.21 260.29 354.21 260.59 354.21 260.88 354.21 261.18 354.21 261.47 354.21 261.77 354.21 262.06 354.21 262.35 354.21 262.65 354.21 262.94 354.21 263.24 354.21 263.53 354.21 263.83 354.21 264.12 354.21 264.42 354.21 264.71 354.21 265 354.21 265.3 354.21 265.59 354.21 265.89 354.21 266.18 354.21 266.48 354.21 266.77 354.21 267.06 354.21 267.36 354.21 267.65 354.21 267.95 354.21 268.24 354.21 268.54 354.21 268.83 354.21 269.13 354.21 269.42 354.21 269.71 354.21 270.01 354.21 270.3 354.21 270.6 354.21 270.89 354.21 271.19 354.21 271.48 354.21 271.78 354.21 272.07 354.21 272.36 354.21 272.66 354.21 272.95 354.21 273.25 354.21 273.54 354.21 273.84 354.21 274.13 354.21 L274.13 354.3 Z" fill="#000"/>
<line x1="32.9" y1="249" x2="274.2" y2="249" stroke="#adadad" stroke-width="1.6"/>
<line x1="33.9" y1="247.8" x2="33.9" y2="354.3" stroke="#4a4a4a" stroke-width="1.6"/>
<line x1="33.9" y1="354.4" x2="274.2" y2="354.4" stroke="#4d4d4d" stroke-width="2"/>
<rect x="168.8" y="250.3" width="105.4" height="95" fill="#efefef"/>
<rect x="190.1" y="250.3" width="84.1" height="85.9" fill="#fff"/>
<path d="M190.1 334 L190 318.5 192 319.7 193.8 320.7 195 317.9 196.2 314.3 197.4 311.3 199.3 310.1 200.2 304 201.1 295.6 201.5 287.2 202.1 276.4 202.6 265.7 203.4 259.5 204.2 265.7 205.3 274.3 206.6 281.8 207.4 287.2 208.3 294.7 208.9 299.2 209.5 310.1 210.7 318.5 212.3 321.5 214 320.9 216.1 320 218.5 320.7 220.9 321.5 223.3 322.1 227.2 322.7 230.4 322.2 232.9 321.1 234 316.2 234.9 309 236.1 304.2 237.2 308.2 238.5 316.2 239.3 317.8 240.9 313 242.5 311.4 244.1 314.6 245.7 320.3 248.2 323.2 252.2 323.8 256.2 324.8 261 325.9 265.9 326.4 270.7 326.7 274.2 327 L274.2 334 Z" fill="#000" stroke="#000" stroke-width="0.7" stroke-linejoin="round"/>
<line x1="187.1" y1="334" x2="190.1" y2="334" stroke="#777" stroke-width="1"/>
<text x="184.7" y="336.7" font-size="6.6" text-anchor="end" textLength="3.72" lengthAdjust="spacingAndGlyphs">0</text>
<line x1="187.1" y1="316.2" x2="190.1" y2="316.2" stroke="#777" stroke-width="1"/>
<text x="184.7" y="318.9" font-size="6.6" text-anchor="end" textLength="11.16" lengthAdjust="spacingAndGlyphs">500</text>
<line x1="187.1" y1="298.4" x2="190.1" y2="298.4" stroke="#777" stroke-width="1"/>
<text x="184.7" y="301.1" font-size="6.6" text-anchor="end" textLength="14.88" lengthAdjust="spacingAndGlyphs">1000</text>
<line x1="187.1" y1="280.6" x2="190.1" y2="280.6" stroke="#777" stroke-width="1"/>
<text x="184.7" y="283.3" font-size="6.6" text-anchor="end" textLength="14.88" lengthAdjust="spacingAndGlyphs">1500</text>
<line x1="187.1" y1="262.8" x2="190.1" y2="262.8" stroke="#777" stroke-width="1"/>
<text x="184.7" y="265.5" font-size="6.6" text-anchor="end" textLength="14.88" lengthAdjust="spacingAndGlyphs">2000</text>
<line x1="197.5" y1="334" x2="197.5" y2="337" stroke="#777" stroke-width="1"/>
<text x="197.5" y="344.2" font-size="6.6" text-anchor="middle">2</text>
<line x1="243.5" y1="334" x2="243.5" y2="337" stroke="#777" stroke-width="1"/>
<text x="243.5" y="344.2" font-size="6.6" text-anchor="middle">3</text>
<line x1="190.5" y1="250.3" x2="190.5" y2="334" stroke="#3a3a3a" stroke-width="1"/>
<line x1="190.1" y1="333.9" x2="274.2" y2="333.9" stroke="#333" stroke-width="1"/>
<text x="42.18" y="267.3" font-size="14.8" textLength="17.71" lengthAdjust="spacingAndGlyphs" stroke="#111" stroke-width="0.25">(e)</text>
<text x="63.27" y="267.3" font-size="14.8" textLength="24.16" lengthAdjust="spacingAndGlyphs" stroke="#111" stroke-width="0.25">800</text>
<text x="90.71" y="267.3" font-size="14.8" textLength="14.64" lengthAdjust="spacingAndGlyphs" stroke="#111" stroke-width="0.25">°C</text>
<text x="54.19" y="311.7" font-size="10.6" textLength="24.38" lengthAdjust="spacingAndGlyphs" stroke="#111" stroke-width="0.25">O Kα</text>
<text x="92.15" y="288.4" font-size="10.6" textLength="25.94" lengthAdjust="spacingAndGlyphs" stroke="#111" stroke-width="0.25">Al Kα</text>
<text x="208.42" y="265" font-size="10.5" textLength="40.05" lengthAdjust="spacingAndGlyphs" stroke="#111" stroke-width="0.25">Au Mα1</text>
<text x="226.56" y="293.7" font-size="10.5" textLength="33.12" lengthAdjust="spacingAndGlyphs" stroke="#111" stroke-width="0.25">Pd Lα1</text>
<text x="240.35" y="309.8" font-size="10.5" textLength="33.82" lengthAdjust="spacingAndGlyphs" stroke="#111" stroke-width="0.25">Ag Lα1</text>
<rect x="301.9" y="248.6" width="241.4" height="108.2" fill="#fff"/>
<line x1="300.1" y1="354.4" x2="304.1" y2="354.4" stroke="#777" stroke-width="1"/>
<text x="298.1" y="357" font-size="7.2" text-anchor="end" textLength="4" lengthAdjust="spacingAndGlyphs">0</text>
<line x1="300.1" y1="334.1" x2="304.1" y2="334.1" stroke="#777" stroke-width="1"/>
<text x="298.1" y="336.7" font-size="7.2" text-anchor="end" textLength="20" lengthAdjust="spacingAndGlyphs">10000</text>
<line x1="300.1" y1="313.8" x2="304.1" y2="313.8" stroke="#777" stroke-width="1"/>
<text x="298.1" y="316.4" font-size="7.2" text-anchor="end" textLength="20" lengthAdjust="spacingAndGlyphs">20000</text>
<line x1="300.1" y1="293.5" x2="304.1" y2="293.5" stroke="#777" stroke-width="1"/>
<text x="298.1" y="296.1" font-size="7.2" text-anchor="end" textLength="20" lengthAdjust="spacingAndGlyphs">30000</text>
<line x1="300.1" y1="273.2" x2="304.1" y2="273.2" stroke="#777" stroke-width="1"/>
<text x="298.1" y="275.8" font-size="7.2" text-anchor="end" textLength="20" lengthAdjust="spacingAndGlyphs">40000</text>
<line x1="300.1" y1="252.9" x2="304.1" y2="252.9" stroke="#777" stroke-width="1"/>
<text x="298.1" y="255.5" font-size="7.2" text-anchor="end" textLength="20" lengthAdjust="spacingAndGlyphs">50000</text>
<line x1="304.1" y1="354.4" x2="304.1" y2="357.9" stroke="#777" stroke-width="1"/>
<text x="304.1" y="365.7" font-size="7.2" text-anchor="middle">0</text>
<line x1="340.7" y1="354.4" x2="340.7" y2="357.9" stroke="#777" stroke-width="1"/>
<text x="340.7" y="365.7" font-size="7.2" text-anchor="middle">1</text>
<line x1="377.3" y1="354.4" x2="377.3" y2="357.9" stroke="#777" stroke-width="1"/>
<text x="377.3" y="365.7" font-size="7.2" text-anchor="middle">2</text>
<line x1="413.9" y1="354.4" x2="413.9" y2="357.9" stroke="#777" stroke-width="1"/>
<text x="413.9" y="365.7" font-size="7.2" text-anchor="middle">3</text>
<line x1="450.5" y1="354.4" x2="450.5" y2="357.9" stroke="#777" stroke-width="1"/>
<text x="450.5" y="365.7" font-size="7.2" text-anchor="middle">4</text>
<line x1="487.1" y1="354.4" x2="487.1" y2="357.9" stroke="#777" stroke-width="1"/>
<text x="487.1" y="365.7" font-size="7.2" text-anchor="middle">5</text>
<line x1="523.7" y1="354.4" x2="523.7" y2="357.9" stroke="#777" stroke-width="1"/>
<text x="523.7" y="365.7" font-size="7.2" text-anchor="middle">6</text>
<path d="M304.1 354.4 L304.1 351.23 304.39 348.25 304.69 345.6 304.98 345.61 305.27 348.26 305.56 351.25 305.86 352.98 306.15 353.58 306.44 353.72 306.74 353.74 307.03 353.75 307.32 353.75 307.61 353.76 307.91 353.76 308.2 353.76 308.49 353.77 308.78 353.77 309.08 353.78 309.37 353.78 309.66 353.78 309.96 353.79 310.25 353.79 310.54 353.79 310.83 353.8 311.13 353.8 311.42 353.8 311.71 353.8 312.01 353.79 312.3 353.75 312.59 353.66 312.88 353.51 313.18 353.26 313.47 352.95 313.76 352.65 314.06 352.44 314.35 352.42 314.64 352.58 314.93 352.87 315.23 353.19 315.52 353.45 315.81 353.63 316.1 353.73 316.4 353.77 316.69 353.77 316.98 353.76 317.28 353.74 317.57 353.71 317.86 353.68 318.15 353.63 318.45 353.58 318.74 353.5 319.03 353.41 319.33 353.3 319.62 353.14 319.91 352.91 320.2 352.55 320.5 351.93 320.79 350.79 321.08 348.71 321.38 345.11 321.67 339.31 321.96 330.81 322.25 319.66 322.55 306.78 322.84 294.16 323.13 284.64 323.42 281.05 323.72 284.65 324.01 294.18 324.3 306.79 324.6 319.68 324.89 330.84 325.18 339.34 325.47 345.15 325.77 348.75 326.06 350.83 326.35 351.98 326.65 352.61 326.94 352.97 327.23 353.21 327.52 353.37 327.82 353.49 328.11 353.59 328.4 353.67 328.7 353.73 328.99 353.78 329.28 353.82 329.57 353.85 329.87 353.88 330.16 353.9 330.45 353.92 330.74 353.94 331.04 353.95 331.33 353.96 331.62 353.97 331.92 353.98 332.21 353.98 332.5 353.99 332.79 353.99 333.09 354 333.38 354 333.67 354 333.97 354.01 334.26 354.01 334.55 354.01 334.84 354.02 335.14 354.02 335.43 354.02 335.72 354.02 336.02 354.02 336.31 354.03 336.6 354.03 336.89 354.03 337.19 354.03 337.48 354.03 337.77 354.04 338.06 354.04 338.36 354.04 338.65 354.04 338.94 354.04 339.24 354.05 339.53 354.05 339.82 354.05 340.11 354.05 340.41 354.05 340.7 354.05 340.99 354.06 341.29 354.06 341.58 354.06 341.87 354.06 342.16 354.06 342.46 354.06 342.75 354.07 343.04 354.07 343.34 354.07 343.63 354.07 343.92 354.07 344.21 354.07 344.51 354.08 344.8 354.08 345.09 354.08 345.38 354.08 345.68 354.08 345.97 354.08 346.26 354.08 346.56 354.09 346.85 354.09 347.14 354.09 347.43 354.09 347.73 354.09 348.02 354.09 348.31 354.09 348.61 354.09 348.9 354.09 349.19 354.08 349.48 354.08 349.78 354.07 350.07 354.07 350.36 354.06 350.66 354.04 350.95 354.03 351.24 354.01 351.53 353.98 351.83 353.95 352.12 353.9 352.41 353.85 352.7 353.78 353 353.7 353.29 353.59 353.58 353.45 353.88 353.27 354.17 353 354.46 352.62 354.75 352.05 355.05 351.17 355.34 349.81 355.63 347.75 355.93 344.68 356.22 340.3 356.51 334.28 356.8 326.34 357.1 316.18 357.39 303.42 357.68 287.43 357.98 267.78 358.27 248.6 358.56 248.6 358.85 252.33 359.15 272.99 359.44 291.78 359.73 306.9 360.02 318.96 360.32 328.54 360.61 335.97 360.9 341.56 361.2 345.58 361.49 348.37 361.78 350.24 362.07 351.46 362.37 352.25 362.66 352.77 362.95 353.11 363.25 353.36 363.54 353.53 363.83 353.67 364.12 353.77 364.42 353.85 364.71 353.92 365 353.97 365.3 354.01 365.59 354.04 365.88 354.07 366.17 354.09 366.47 354.11 366.76 354.13 367.05 354.14 367.34 354.15 367.64 354.15 367.93 354.16 368.22 354.16 368.52 354.17 368.81 354.17 369.1 354.17 369.39 354.18 369.69 354.18 369.98 354.18 370.27 354.18 370.57 354.18 370.86 354.18 371.15 354.19 371.44 354.19 371.74 354.19 372.03 354.19 372.32 354.19 372.62 354.19 372.91 354.19 373.2 354.19 373.49 354.19 373.79 354.19 374.08 354.19 374.37 354.2 374.66 354.2 374.96 354.2 375.25 354.2 375.54 354.2 375.84 354.2 376.13 354.2 376.42 354.19 376.71 354.18 377.01 354.17 377.3 354.15 377.59 354.11 377.89 354.05 378.18 353.97 378.47 353.85 378.76 353.69 379.06 353.48 379.35 353.23 379.64 352.93 379.94 352.59 380.23 352.24 380.52 351.89 380.81 351.57 381.11 351.31 381.4 351.13 381.69 351.04 381.98 351.04 382.28 351.14 382.57 351.31 382.86 351.53 383.16 351.78 383.45 352.03 383.74 352.26 384.03 352.46 384.33 352.63 384.62 352.77 384.91 352.88 385.21 352.98 385.5 353.06 385.79 353.14 386.08 353.23 386.38 353.33 386.67 353.43 386.96 353.53 387.26 353.64 387.55 353.74 387.84 353.83 388.13 353.92 388.43 353.99 388.72 354.05 389.01 354.1 389.3 354.14 389.6 354.17 389.89 354.19 390.18 354.2 390.48 354.21 390.77 354.22 391.06 354.23 391.35 354.23 391.65 354.23 391.94 354.24 392.23 354.24 392.53 354.24 392.82 354.24 393.11 354.24 393.4 354.24 393.7 354.24 393.99 354.24 394.28 354.24 394.58 354.24 394.87 354.24 395.16 354.24 395.45 354.24 395.75 354.24 396.04 354.24 396.33 354.24 396.62 354.24 396.92 354.25 397.21 354.25 397.5 354.25 397.8 354.25 398.09 354.25 398.38 354.25 398.67 354.25 398.97 354.25 399.26 354.25 399.55 354.25 399.85 354.25 400.14 354.25 400.43 354.25 400.72 354.25 401.02 354.25 401.31 354.25 401.6 354.25 401.9 354.25 402.19 354.25 402.48 354.25 402.77 354.25 403.07 354.25 403.36 354.25 403.65 354.25 403.94 354.25 404.24 354.24 404.53 354.23 404.82 354.21 405.12 354.18 405.41 354.13 405.7 354.06 405.99 353.97 406.29 353.86 406.58 353.72 406.87 353.59 407.17 353.45 407.46 353.34 407.75 353.27 408.04 353.25 408.34 353.27 408.63 353.34 408.92 353.45 409.22 353.57 409.51 353.69 409.8 353.8 410.09 353.87 410.39 353.89 410.68 353.85 410.97 353.75 411.26 353.6 411.56 353.4 411.85 353.17 412.14 352.92 412.44 352.71 412.73 352.54 413.02 352.45 413.31 352.45 413.61 352.54 413.9 352.71 414.19 352.93 414.49 353.18 414.78 353.43 415.07 353.65 415.36 353.83 415.66 353.98 415.95 354.08 416.24 354.14 416.54 354.17 416.83 354.17 417.12 354.15 417.41 354.11 417.71 354.05 418 353.99 418.29 353.92 418.58 353.86 418.88 353.8 419.17 353.77 419.46 353.77 419.76 353.79 420.05 353.83 420.34 353.89 420.63 353.96 420.93 354.03 421.22 354.09 421.51 354.14 421.81 354.19 422.1 354.22 422.39 354.24 422.68 354.26 422.98 354.27 423.27 354.27 423.56 354.28 423.86 354.28 424.15 354.28 424.44 354.28 424.73 354.28 425.03 354.28 425.32 354.28 425.61 354.28 425.9 354.28 426.2 354.28 426.49 354.28 426.78 354.28 427.08 354.28 427.37 354.28 427.66 354.28 427.95 354.28 428.25 354.28 428.54 354.28 428.83 354.28 429.13 354.28 429.42 354.28 429.71 354.28 430 354.28 430.3 354.28 430.59 354.28 430.88 354.28 431.18 354.29 431.47 354.29 431.76 354.29 432.05 354.29 432.35 354.29 432.64 354.29 432.93 354.29 433.22 354.29 433.52 354.29 433.81 354.29 434.1 354.29 434.4 354.29 434.69 354.29 434.98 354.29 435.27 354.29 435.57 354.29 435.86 354.29 436.15 354.29 436.45 354.29 436.74 354.29 437.03 354.29 437.32 354.29 437.62 354.29 437.91 354.29 438.2 354.29 438.5 354.29 438.79 354.29 439.08 354.29 439.37 354.29 439.67 354.29 439.96 354.29 440.25 354.29 440.54 354.29 440.84 354.29 441.13 354.29 441.42 354.29 441.72 354.29 442.01 354.29 442.3 354.29 442.59 354.29 442.89 354.29 443.18 354.29 443.47 354.29 443.77 354.29 444.06 354.29 444.35 354.29 444.64 354.29 444.94 354.29 445.23 354.29 445.52 354.29 445.82 354.29 446.11 354.29 446.4 354.29 446.69 354.3 446.99 354.3 447.28 354.3 447.57 354.3 447.86 354.3 448.16 354.3 448.45 354.3 448.74 354.3 449.04 354.3 449.33 354.3 449.62 354.3 449.91 354.3 450.21 354.3 450.5 354.3 450.79 354.3 451.09 354.3 451.38 354.3 451.67 354.3 451.96 354.3 452.26 354.3 452.55 354.3 452.84 354.3 453.14 354.3 453.43 354.3 453.72 354.3 454.01 354.3 454.31 354.3 454.6 354.3 454.89 354.3 455.18 354.3 455.48 354.3 455.77 354.3 456.06 354.3 456.36 354.3 456.65 354.3 456.94 354.3 457.23 354.3 457.53 354.3 457.82 354.3 458.11 354.3 458.41 354.3 458.7 354.3 458.99 354.3 459.28 354.3 459.58 354.3 459.87 354.3 460.16 354.3 460.46 354.3 460.75 354.3 461.04 354.3 461.33 354.3 461.63 354.3 461.92 354.3 462.21 354.3 462.5 354.3 462.8 354.3 463.09 354.3 463.38 354.3 463.68 354.3 463.97 354.3 464.26 354.3 464.55 354.3 464.85 354.3 465.14 354.3 465.43 354.3 465.73 354.3 466.02 354.3 466.31 354.3 466.6 354.3 466.9 354.3 467.19 354.3 467.48 354.3 467.78 354.3 468.07 354.3 468.36 354.3 468.65 354.3 468.95 354.3 469.24 354.3 469.53 354.3 469.82 354.3 470.12 354.3 470.41 354.3 470.7 354.31 471 354.31 471.29 354.31 471.58 354.31 471.87 354.31 472.17 354.31 472.46 354.31 472.75 354.31 473.05 354.31 473.34 354.31 473.63 354.31 473.92 354.31 474.22 354.31 474.51 354.31 474.8 354.31 475.1 354.31 475.39 354.31 475.68 354.31 475.97 354.31 476.27 354.31 476.56 354.31 476.85 354.31 477.14 354.31 477.44 354.31 477.73 354.31 478.02 354.31 478.32 354.31 478.61 354.31 478.9 354.31 479.19 354.31 479.49 354.31 479.78 354.31 480.07 354.31 480.37 354.31 480.66 354.31 480.95 354.31 481.24 354.31 481.54 354.31 481.83 354.31 482.12 354.31 482.42 354.31 482.71 354.31 483 354.31 483.29 354.31 483.59 354.31 483.88 354.31 484.17 354.31 484.46 354.31 484.76 354.31 485.05 354.31 485.34 354.31 485.64 354.31 485.93 354.31 486.22 354.31 486.51 354.31 486.81 354.31 487.1 354.31 487.39 354.31 487.69 354.31 487.98 354.31 488.27 354.31 488.56 354.31 488.86 354.31 489.15 354.31 489.44 354.31 489.74 354.31 490.03 354.31 490.32 354.31 490.61 354.31 490.91 354.31 491.2 354.31 491.49 354.31 491.78 354.31 492.08 354.31 492.37 354.31 492.66 354.31 492.96 354.31 493.25 354.31 493.54 354.31 493.83 354.31 494.13 354.31 494.42 354.31 494.71 354.31 495.01 354.31 495.3 354.31 495.59 354.31 495.88 354.31 496.18 354.31 496.47 354.31 496.76 354.31 497.06 354.31 497.35 354.31 497.64 354.31 497.93 354.31 498.23 354.31 498.52 354.31 498.81 354.31 499.1 354.31 499.4 354.31 499.69 354.31 499.98 354.31 500.28 354.31 500.57 354.31 500.86 354.31 501.15 354.31 501.45 354.31 501.74 354.31 502.03 354.31 502.33 354.31 502.62 354.31 502.91 354.31 503.2 354.31 503.5 354.31 503.79 354.31 504.08 354.31 504.38 354.31 504.67 354.31 504.96 354.31 505.25 354.31 505.55 354.31 505.84 354.31 506.13 354.31 506.42 354.31 506.72 354.31 507.01 354.31 507.3 354.31 507.6 354.31 507.89 354.31 508.18 354.31 508.47 354.31 508.77 354.31 509.06 354.31 509.35 354.31 509.65 354.31 509.94 354.31 510.23 354.31 510.52 354.31 510.82 354.31 511.11 354.31 511.4 354.31 511.7 354.31 511.99 354.31 512.28 354.31 512.57 354.31 512.87 354.31 513.16 354.31 513.45 354.31 513.74 354.31 514.04 354.31 514.33 354.31 514.62 354.31 514.92 354.31 515.21 354.31 515.5 354.31 515.79 354.31 516.09 354.31 516.38 354.31 516.67 354.31 516.97 354.31 517.26 354.31 517.55 354.31 517.84 354.31 518.14 354.31 518.43 354.31 518.72 354.31 519.02 354.31 519.31 354.31 519.6 354.31 519.89 354.31 520.19 354.31 520.48 354.31 520.77 354.31 521.06 354.31 521.36 354.31 521.65 354.31 521.94 354.31 522.24 354.31 522.53 354.31 522.82 354.31 523.11 354.31 523.41 354.31 523.7 354.31 523.99 354.31 524.29 354.31 524.58 354.31 524.87 354.31 525.16 354.31 525.46 354.31 525.75 354.31 526.04 354.31 526.34 354.31 526.63 354.31 526.92 354.31 527.21 354.32 527.51 354.32 527.8 354.32 528.09 354.32 528.38 354.32 528.68 354.32 528.97 354.32 529.26 354.32 529.56 354.32 529.85 354.32 530.14 354.32 530.43 354.32 530.73 354.32 531.02 354.32 531.31 354.32 531.61 354.32 531.9 354.32 532.19 354.32 532.48 354.32 532.78 354.32 533.07 354.32 533.36 354.32 533.66 354.32 533.95 354.32 534.24 354.32 534.53 354.32 534.83 354.32 535.12 354.32 535.41 354.32 535.7 354.32 536 354.32 536.29 354.32 536.58 354.32 536.88 354.32 537.17 354.32 537.46 354.32 537.75 354.32 538.05 354.32 538.34 354.32 538.63 354.32 538.93 354.32 539.22 354.32 539.51 354.32 539.8 354.32 540.1 354.32 540.39 354.32 540.68 354.32 540.98 354.32 541.27 354.32 541.56 354.32 541.85 354.32 542.15 354.32 542.44 354.32 542.73 354.32 543.02 354.32 L543.02 354.4 Z" fill="#000"/>
<line x1="303.1" y1="249" x2="543.3" y2="249" stroke="#adadad" stroke-width="1.6"/>
<line x1="304.1" y1="247.8" x2="304.1" y2="354.4" stroke="#4a4a4a" stroke-width="1.6"/>
<line x1="304.1" y1="354.5" x2="543.3" y2="354.5" stroke="#4d4d4d" stroke-width="2"/>
<rect x="437.4" y="250.9" width="105.3" height="93.1" fill="#efefef"/>
<rect x="460.4" y="250.9" width="82.3" height="84.2" fill="#fff"/>
<path d="M460.4 332.9 L460.8 319.1 462.6 319.1 464.4 318.7 465.6 317.3 467.1 313.7 468.7 310.1 470.2 308.6 471.1 304 471.5 294.7 471.9 290.4 472.6 281.8 473.2 271.1 473.7 263.6 474.4 258.8 475.3 263.6 476.4 272.2 477.4 279.7 478.5 287.2 479.1 294.7 479.5 301.6 480.1 310.1 481.3 317.9 483.1 320.7 484.9 320.3 487.1 319.5 489.1 320.3 492.1 321.2 494 321.1 498 321.9 501.2 321.5 503.7 318.6 505.3 311.4 506.9 307.7 508.2 310.6 509.3 316.2 510.4 317.8 512 313 513.3 311.4 514.9 314.6 516.5 320.3 519 323.2 523 323.8 527.8 324.8 532.6 325.4 537.5 325.9 542.7 326.4 L542.7 332.9 Z" fill="#000" stroke="#000" stroke-width="0.7" stroke-linejoin="round"/>
<line x1="457.4" y1="332.9" x2="460.4" y2="332.9" stroke="#777" stroke-width="1"/>
<text x="455" y="335.6" font-size="6.6" text-anchor="end" textLength="3.72" lengthAdjust="spacingAndGlyphs">0</text>
<line x1="457.4" y1="315.2" x2="460.4" y2="315.2" stroke="#777" stroke-width="1"/>
<text x="455" y="317.9" font-size="6.6" text-anchor="end" textLength="11.16" lengthAdjust="spacingAndGlyphs">500</text>
<line x1="457.4" y1="297.5" x2="460.4" y2="297.5" stroke="#777" stroke-width="1"/>
<text x="455" y="300.2" font-size="6.6" text-anchor="end" textLength="14.88" lengthAdjust="spacingAndGlyphs">1000</text>
<line x1="457.4" y1="279.8" x2="460.4" y2="279.8" stroke="#777" stroke-width="1"/>
<text x="455" y="282.5" font-size="6.6" text-anchor="end" textLength="14.88" lengthAdjust="spacingAndGlyphs">1500</text>
<line x1="457.4" y1="262.1" x2="460.4" y2="262.1" stroke="#777" stroke-width="1"/>
<text x="455" y="264.8" font-size="6.6" text-anchor="end" textLength="14.88" lengthAdjust="spacingAndGlyphs">2000</text>
<line x1="468.3" y1="332.9" x2="468.3" y2="335.9" stroke="#777" stroke-width="1"/>
<text x="468.3" y="343.1" font-size="6.6" text-anchor="middle">2</text>
<line x1="514.1" y1="332.9" x2="514.1" y2="335.9" stroke="#777" stroke-width="1"/>
<text x="514.1" y="343.1" font-size="6.6" text-anchor="middle">3</text>
<line x1="460.5" y1="250.9" x2="460.5" y2="332.9" stroke="#3a3a3a" stroke-width="1"/>
<line x1="460.4" y1="332.8" x2="542.7" y2="332.8" stroke="#333" stroke-width="1"/>
<text x="309.74" y="268.7" font-size="14.8" textLength="15.21" lengthAdjust="spacingAndGlyphs" stroke="#111" stroke-width="0.25">(f)</text>
<text x="328.19" y="268.7" font-size="14.8" textLength="24.24" lengthAdjust="spacingAndGlyphs" stroke="#111" stroke-width="0.25">900</text>
<text x="355.68" y="268.7" font-size="14.8" textLength="15.5" lengthAdjust="spacingAndGlyphs" stroke="#111" stroke-width="0.25">°C</text>
<text x="326.19" y="304.4" font-size="10.6" textLength="24.79" lengthAdjust="spacingAndGlyphs" stroke="#111" stroke-width="0.25">O Kα</text>
<text x="362.84" y="286.3" font-size="10.6" textLength="26.76" lengthAdjust="spacingAndGlyphs" stroke="#111" stroke-width="0.25">Al Kα</text>
<text x="477.03" y="267" font-size="10.5" textLength="39.65" lengthAdjust="spacingAndGlyphs" stroke="#111" stroke-width="0.25">Au Mα1</text>
<text x="497.05" y="293.2" font-size="10.5" textLength="33.22" lengthAdjust="spacingAndGlyphs" stroke="#111" stroke-width="0.25">Pd Lα1</text>
<text x="512.45" y="306.1" font-size="10.5" textLength="33.32" lengthAdjust="spacingAndGlyphs" stroke="#111" stroke-width="0.25">Ag Lα1</text></svg>
</body></html>
